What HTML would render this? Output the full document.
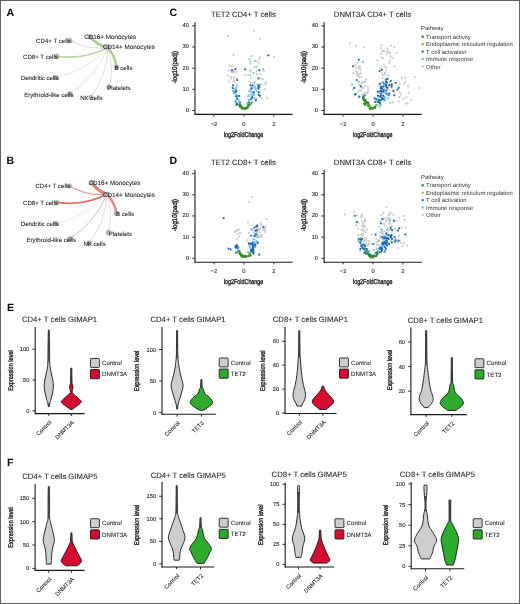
<!DOCTYPE html>
<html><head><meta charset="utf-8"><style>
html,body{margin:0;padding:0;background:#fff;}
svg{display:block;font-family:"Liberation Sans", sans-serif;text-rendering:geometricPrecision;will-change:transform;}
</style></head><body>
<svg width="520" height="604" viewBox="0 0 520 604">
<rect x="0" y="0" width="520" height="604" fill="#fff"/>
<text x="6.60" y="16.20" font-size="10.6" text-anchor="start" fill="#000" font-weight="bold" >A</text>
<text x="6.60" y="163.60" font-size="10.6" text-anchor="start" fill="#000" font-weight="bold" >B</text>
<text x="169.60" y="16.30" font-size="10.6" text-anchor="start" fill="#000" font-weight="bold" >C</text>
<text x="169.60" y="163.80" font-size="10.6" text-anchor="start" fill="#000" font-weight="bold" >D</text>
<text x="6.90" y="310.80" font-size="10.6" text-anchor="start" fill="#000" font-weight="bold" >E</text>
<text x="7.00" y="466.10" font-size="10.6" text-anchor="start" fill="#000" font-weight="bold" >F</text>
<path d="M107.80,47.60 Q97.27,45.02 90.20,36.80" fill="none" stroke="#a6cf8a" stroke-width="2.8" stroke-linecap="round"/>
<path d="M107.80,47.60 Q115.30,56.06 116.50,67.30" fill="none" stroke="#a9d08e" stroke-width="2.4" stroke-linecap="round"/>
<path d="M107.80,47.60 Q83.58,60.09 56.60,56.20" fill="none" stroke="#b2d49a" stroke-width="1.6" stroke-linecap="round"/>
<path d="M107.80,47.60 Q87.73,50.16 69.90,40.60" fill="none" stroke="#d8d8ea" stroke-width="1.0" stroke-linecap="round"/>
<path d="M107.80,47.60 Q86.67,70.95 55.90,77.70" fill="none" stroke="#dcebd2" stroke-width="0.9" stroke-linecap="round"/>
<path d="M107.80,47.60 Q96.29,76.75 70.00,93.80" fill="none" stroke="#e0e0e0" stroke-width="0.9" stroke-linecap="round"/>
<path d="M107.80,47.60 Q107.35,75.14 91.00,97.30" fill="none" stroke="#d8d8d8" stroke-width="0.9" stroke-linecap="round"/>
<path d="M107.80,47.60 Q114.70,67.11 109.00,87.00" fill="none" stroke="#d8d8d8" stroke-width="0.9" stroke-linecap="round"/>
<circle cx="107.80" cy="47.60" r="2.6" fill="#a8a8a8" opacity="0.85"/>
<circle cx="90.20" cy="36.80" r="2.6" fill="#a8a8a8" opacity="0.85"/>
<circle cx="69.90" cy="40.60" r="2.6" fill="#a8a8a8" opacity="0.85"/>
<circle cx="56.60" cy="56.20" r="2.6" fill="#a8a8a8" opacity="0.85"/>
<circle cx="116.50" cy="67.30" r="2.6" fill="#a8a8a8" opacity="0.85"/>
<circle cx="55.90" cy="77.70" r="2.6" fill="#a8a8a8" opacity="0.85"/>
<circle cx="109.00" cy="87.00" r="2.6" fill="#a8a8a8" opacity="0.85"/>
<circle cx="70.00" cy="93.80" r="2.6" fill="#a8a8a8" opacity="0.85"/>
<circle cx="91.00" cy="97.30" r="2.6" fill="#a8a8a8" opacity="0.85"/>
<text x="84.20" y="38.80" font-size="6.3" text-anchor="start" fill="#222" font-weight="normal" stroke="#222" stroke-width="0.08">CD16+ Monocytes</text>
<text x="103.00" y="49.10" font-size="6.3" text-anchor="start" fill="#222" font-weight="normal" stroke="#222" stroke-width="0.08">CD14+ Monocytes</text>
<text x="36.10" y="42.70" font-size="6.1" text-anchor="start" fill="#222" font-weight="normal" stroke="#222" stroke-width="0.08">CD4+ T cells</text>
<text x="23.00" y="58.60" font-size="6.1" text-anchor="start" fill="#222" font-weight="normal" stroke="#222" stroke-width="0.08">CD8+ T cells</text>
<text x="114.50" y="70.30" font-size="6.1" text-anchor="start" fill="#222" font-weight="normal" stroke="#222" stroke-width="0.08">B cells</text>
<text x="20.80" y="80.40" font-size="6.1" text-anchor="start" fill="#222" font-weight="normal" stroke="#222" stroke-width="0.08">Dendritic cells</text>
<text x="107.30" y="89.90" font-size="6.1" text-anchor="start" fill="#222" font-weight="normal" stroke="#222" stroke-width="0.08">Platelets</text>
<text x="24.20" y="96.70" font-size="6.1" text-anchor="start" fill="#222" font-weight="normal" stroke="#222" stroke-width="0.08">Erythroid-like cells</text>
<text x="80.20" y="100.30" font-size="6.1" text-anchor="start" fill="#222" font-weight="normal" stroke="#222" stroke-width="0.08">NK cells</text>
<path d="M107.00,194.30 Q97.87,191.10 92.30,183.20" fill="none" stroke="#df8580" stroke-width="3.4" stroke-linecap="round"/>
<path d="M107.00,194.30 Q114.81,202.33 116.50,213.40" fill="none" stroke="#e08d89" stroke-width="2.6" stroke-linecap="round"/>
<path d="M107.00,194.30 Q83.20,206.38 56.80,202.40" fill="none" stroke="#da6c68" stroke-width="1.8" stroke-linecap="round"/>
<path d="M107.00,194.30 Q86.82,196.18 69.30,186.00" fill="none" stroke="#e39a96" stroke-width="1.1" stroke-linecap="round"/>
<path d="M107.00,194.30 Q86.29,217.08 56.20,223.60" fill="none" stroke="#f3eaea" stroke-width="0.9" stroke-linecap="round"/>
<path d="M107.00,194.30 Q95.50,222.45 69.80,238.70" fill="none" stroke="#e8aeab" stroke-width="0.9" stroke-linecap="round"/>
<path d="M107.00,194.30 Q105.89,221.50 89.20,243.00" fill="none" stroke="#edd0ce" stroke-width="0.9" stroke-linecap="round"/>
<path d="M107.00,194.30 Q113.75,213.14 108.30,232.40" fill="none" stroke="#e6dddd" stroke-width="0.9" stroke-linecap="round"/>
<circle cx="107.00" cy="194.30" r="2.6" fill="#a8a8a8" opacity="0.85"/>
<circle cx="92.30" cy="183.20" r="2.6" fill="#a8a8a8" opacity="0.85"/>
<circle cx="69.30" cy="186.00" r="2.6" fill="#a8a8a8" opacity="0.85"/>
<circle cx="56.80" cy="202.40" r="2.6" fill="#a8a8a8" opacity="0.85"/>
<circle cx="116.50" cy="213.40" r="2.6" fill="#a8a8a8" opacity="0.85"/>
<circle cx="56.20" cy="223.60" r="2.6" fill="#a8a8a8" opacity="0.85"/>
<circle cx="108.30" cy="232.40" r="2.6" fill="#a8a8a8" opacity="0.85"/>
<circle cx="69.80" cy="238.70" r="2.6" fill="#a8a8a8" opacity="0.85"/>
<circle cx="89.20" cy="243.00" r="2.6" fill="#a8a8a8" opacity="0.85"/>
<text x="88.50" y="185.40" font-size="6.3" text-anchor="start" fill="#222" font-weight="normal" stroke="#222" stroke-width="0.08">CD16+ Monocytes</text>
<text x="103.00" y="196.50" font-size="6.3" text-anchor="start" fill="#222" font-weight="normal" stroke="#222" stroke-width="0.08">CD14+ Monocytes</text>
<text x="35.40" y="188.10" font-size="6.1" text-anchor="start" fill="#222" font-weight="normal" stroke="#222" stroke-width="0.08">CD4+ T cells</text>
<text x="23.00" y="205.40" font-size="6.1" text-anchor="start" fill="#222" font-weight="normal" stroke="#222" stroke-width="0.08">CD8+ T cells</text>
<text x="116.00" y="215.90" font-size="6.1" text-anchor="start" fill="#222" font-weight="normal" stroke="#222" stroke-width="0.08">B cells</text>
<text x="20.80" y="225.80" font-size="6.1" text-anchor="start" fill="#222" font-weight="normal" stroke="#222" stroke-width="0.08">Dendritic cells</text>
<text x="108.70" y="236.00" font-size="6.1" text-anchor="start" fill="#222" font-weight="normal" stroke="#222" stroke-width="0.08">Platelets</text>
<text x="26.50" y="242.30" font-size="6.1" text-anchor="start" fill="#222" font-weight="normal" stroke="#222" stroke-width="0.08">Erythroid-like cells</text>
<text x="83.40" y="246.40" font-size="6.1" text-anchor="start" fill="#222" font-weight="normal" stroke="#222" stroke-width="0.08">NK cells</text>
<text x="243.40" y="17.10" font-size="7.7" text-anchor="middle" fill="#231f20" font-weight="normal" stroke="#231f20" stroke-width="0.08">TET2 CD4+ T cells</text>
<line x1="195.00" y1="22.20" x2="195.00" y2="114.90" stroke="#1a1a1a" stroke-width="1.1" />
<line x1="192.20" y1="110.50" x2="195.00" y2="110.50" stroke="#1a1a1a" stroke-width="0.9" />
<text x="189.00" y="112.00" font-size="5.8" text-anchor="end" fill="#2a2a2a" font-weight="normal" stroke="#2a2a2a" stroke-width="0.12">0</text>
<line x1="192.20" y1="89.33" x2="195.00" y2="89.33" stroke="#1a1a1a" stroke-width="0.9" />
<text x="189.00" y="90.83" font-size="5.8" text-anchor="end" fill="#2a2a2a" font-weight="normal" stroke="#2a2a2a" stroke-width="0.12">10</text>
<line x1="192.20" y1="68.16" x2="195.00" y2="68.16" stroke="#1a1a1a" stroke-width="0.9" />
<text x="189.00" y="69.66" font-size="5.8" text-anchor="end" fill="#2a2a2a" font-weight="normal" stroke="#2a2a2a" stroke-width="0.12">20</text>
<line x1="192.20" y1="46.99" x2="195.00" y2="46.99" stroke="#1a1a1a" stroke-width="0.9" />
<text x="189.00" y="48.49" font-size="5.8" text-anchor="end" fill="#2a2a2a" font-weight="normal" stroke="#2a2a2a" stroke-width="0.12">30</text>
<line x1="192.20" y1="25.82" x2="195.00" y2="25.82" stroke="#1a1a1a" stroke-width="0.9" />
<text x="189.00" y="27.32" font-size="5.8" text-anchor="end" fill="#2a2a2a" font-weight="normal" stroke="#2a2a2a" stroke-width="0.12">40</text>
<line x1="194.50" y1="114.40" x2="292.60" y2="114.40" stroke="#1a1a1a" stroke-width="1.1" />
<line x1="214.00" y1="114.40" x2="214.00" y2="116.60" stroke="#1a1a1a" stroke-width="0.9" />
<text x="214.00" y="125.60" font-size="5.8" text-anchor="middle" fill="#2a2a2a" font-weight="normal" stroke="#2a2a2a" stroke-width="0.12">−2</text>
<line x1="243.90" y1="114.40" x2="243.90" y2="116.60" stroke="#1a1a1a" stroke-width="0.9" />
<text x="243.90" y="125.60" font-size="5.8" text-anchor="middle" fill="#2a2a2a" font-weight="normal" stroke="#2a2a2a" stroke-width="0.12">0</text>
<line x1="273.80" y1="114.40" x2="273.80" y2="116.60" stroke="#1a1a1a" stroke-width="0.9" />
<text x="273.80" y="125.60" font-size="5.8" text-anchor="middle" fill="#2a2a2a" font-weight="normal" stroke="#2a2a2a" stroke-width="0.12">2</text>
<text x="243.60" y="136.50" font-size="7.0" text-anchor="middle" fill="#1a1a1a" font-weight="normal" textLength="39.5" lengthAdjust="spacingAndGlyphs" stroke="#111" stroke-width="0.32">log2FoldChange</text>
<text x="0" y="0" font-size="7.0" font-weight="normal" text-anchor="middle" fill="#1a1a1a" stroke="#111" stroke-width="0.32" textLength="32.5" lengthAdjust="spacingAndGlyphs" transform="translate(177.00,67.30) rotate(-90)">-log10(padj)</text>
<circle cx="233.85" cy="81.16" r="1.08" fill="#cbcbcb"/>
<circle cx="236.60" cy="71.96" r="1.08" fill="#cbcbcb"/>
<circle cx="233.58" cy="77.27" r="1.08" fill="#cbcbcb"/>
<circle cx="235.83" cy="87.70" r="1.08" fill="#cbcbcb"/>
<circle cx="230.92" cy="76.89" r="1.08" fill="#cbcbcb"/>
<circle cx="236.06" cy="89.30" r="1.08" fill="#cbcbcb"/>
<circle cx="231.90" cy="66.30" r="1.08" fill="#cbcbcb"/>
<circle cx="233.84" cy="78.80" r="1.08" fill="#cbcbcb"/>
<circle cx="231.22" cy="78.58" r="1.08" fill="#cbcbcb"/>
<circle cx="233.13" cy="72.20" r="1.08" fill="#cbcbcb"/>
<circle cx="231.32" cy="71.89" r="1.08" fill="#cbcbcb"/>
<circle cx="237.23" cy="78.32" r="1.08" fill="#cbcbcb"/>
<circle cx="234.10" cy="71.59" r="1.08" fill="#cbcbcb"/>
<circle cx="227.88" cy="75.54" r="1.08" fill="#cbcbcb"/>
<circle cx="237.23" cy="84.72" r="1.08" fill="#cbcbcb"/>
<circle cx="228.75" cy="70.45" r="1.08" fill="#cbcbcb"/>
<circle cx="232.86" cy="71.33" r="1.08" fill="#cbcbcb"/>
<circle cx="233.87" cy="72.40" r="1.08" fill="#cbcbcb"/>
<circle cx="234.36" cy="93.70" r="1.08" fill="#cbcbcb"/>
<circle cx="237.35" cy="85.81" r="1.08" fill="#cbcbcb"/>
<circle cx="250.06" cy="70.09" r="1.08" fill="#cbcbcb"/>
<circle cx="251.88" cy="56.07" r="1.08" fill="#cbcbcb"/>
<circle cx="259.30" cy="59.07" r="1.08" fill="#cbcbcb"/>
<circle cx="251.19" cy="86.55" r="1.08" fill="#cbcbcb"/>
<circle cx="244.85" cy="74.89" r="1.08" fill="#cbcbcb"/>
<circle cx="251.21" cy="55.96" r="1.08" fill="#cbcbcb"/>
<circle cx="249.72" cy="90.09" r="1.08" fill="#cbcbcb"/>
<circle cx="260.64" cy="74.16" r="1.08" fill="#cbcbcb"/>
<circle cx="250.61" cy="75.10" r="1.08" fill="#cbcbcb"/>
<circle cx="251.19" cy="70.62" r="1.08" fill="#cbcbcb"/>
<circle cx="254.57" cy="84.86" r="1.08" fill="#cbcbcb"/>
<circle cx="254.10" cy="92.26" r="1.08" fill="#cbcbcb"/>
<circle cx="256.77" cy="74.54" r="1.08" fill="#cbcbcb"/>
<circle cx="255.53" cy="88.89" r="1.08" fill="#cbcbcb"/>
<circle cx="251.03" cy="77.64" r="1.08" fill="#cbcbcb"/>
<circle cx="248.47" cy="75.22" r="1.08" fill="#cbcbcb"/>
<circle cx="259.97" cy="57.33" r="1.08" fill="#cbcbcb"/>
<circle cx="255.83" cy="89.92" r="1.08" fill="#cbcbcb"/>
<circle cx="251.78" cy="84.76" r="1.08" fill="#cbcbcb"/>
<circle cx="249.78" cy="71.53" r="1.08" fill="#cbcbcb"/>
<circle cx="253.52" cy="94.97" r="1.08" fill="#cbcbcb"/>
<circle cx="256.69" cy="73.51" r="1.08" fill="#cbcbcb"/>
<circle cx="249.54" cy="90.90" r="1.08" fill="#cbcbcb"/>
<circle cx="250.31" cy="81.97" r="1.08" fill="#cbcbcb"/>
<circle cx="254.64" cy="67.16" r="1.08" fill="#cbcbcb"/>
<circle cx="250.33" cy="63.33" r="1.08" fill="#cbcbcb"/>
<circle cx="252.40" cy="82.79" r="1.08" fill="#cbcbcb"/>
<circle cx="256.45" cy="71.06" r="1.08" fill="#cbcbcb"/>
<circle cx="256.96" cy="66.84" r="1.08" fill="#cbcbcb"/>
<circle cx="252.30" cy="91.86" r="1.08" fill="#cbcbcb"/>
<circle cx="248.41" cy="74.79" r="1.08" fill="#cbcbcb"/>
<circle cx="256.07" cy="67.04" r="1.08" fill="#cbcbcb"/>
<circle cx="249.62" cy="95.32" r="1.08" fill="#cbcbcb"/>
<circle cx="260.83" cy="78.57" r="1.08" fill="#cbcbcb"/>
<circle cx="265.26" cy="84.16" r="1.08" fill="#cbcbcb"/>
<circle cx="265.09" cy="89.23" r="1.08" fill="#cbcbcb"/>
<circle cx="267.40" cy="97.83" r="1.08" fill="#cbcbcb"/>
<circle cx="266.03" cy="82.62" r="1.08" fill="#cbcbcb"/>
<circle cx="262.00" cy="98.37" r="1.08" fill="#cbcbcb"/>
<circle cx="260.48" cy="84.04" r="1.08" fill="#cbcbcb"/>
<circle cx="261.63" cy="84.89" r="1.08" fill="#cbcbcb"/>
<circle cx="228.00" cy="35.80" r="1.08" fill="#cbcbcb"/>
<circle cx="253.90" cy="30.80" r="1.08" fill="#cbcbcb"/>
<circle cx="260.00" cy="38.90" r="1.08" fill="#cbcbcb"/>
<circle cx="274.20" cy="56.90" r="1.08" fill="#cbcbcb"/>
<circle cx="233.50" cy="55.10" r="1.08" fill="#cbcbcb"/>
<circle cx="249.60" cy="59.20" r="1.08" fill="#cbcbcb"/>
<circle cx="250.40" cy="61.20" r="1.08" fill="#cbcbcb"/>
<circle cx="257.30" cy="61.50" r="1.08" fill="#cbcbcb"/>
<circle cx="259.20" cy="62.80" r="1.08" fill="#cbcbcb"/>
<circle cx="229.60" cy="65.70" r="1.08" fill="#cbcbcb"/>
<circle cx="264.20" cy="70.70" r="1.08" fill="#cbcbcb"/>
<circle cx="263.30" cy="79.30" r="1.08" fill="#cbcbcb"/>
<circle cx="229.10" cy="81.70" r="1.08" fill="#cbcbcb"/>
<circle cx="236.08" cy="94.70" r="1.08" fill="#6cc3ea"/>
<circle cx="236.05" cy="103.14" r="1.08" fill="#6cc3ea"/>
<circle cx="234.13" cy="88.98" r="1.08" fill="#6cc3ea"/>
<circle cx="235.66" cy="96.48" r="1.08" fill="#6cc3ea"/>
<circle cx="237.34" cy="95.21" r="1.08" fill="#6cc3ea"/>
<circle cx="234.02" cy="93.17" r="1.08" fill="#6cc3ea"/>
<circle cx="235.33" cy="101.57" r="1.08" fill="#6cc3ea"/>
<circle cx="233.07" cy="91.22" r="1.08" fill="#6cc3ea"/>
<circle cx="236.80" cy="95.92" r="1.08" fill="#6cc3ea"/>
<circle cx="233.03" cy="91.05" r="1.08" fill="#6cc3ea"/>
<circle cx="238.71" cy="99.93" r="1.08" fill="#6cc3ea"/>
<circle cx="239.30" cy="102.37" r="1.08" fill="#6cc3ea"/>
<circle cx="237.50" cy="95.74" r="1.08" fill="#6cc3ea"/>
<circle cx="235.28" cy="101.60" r="1.08" fill="#6cc3ea"/>
<circle cx="235.22" cy="102.31" r="1.08" fill="#6cc3ea"/>
<circle cx="234.18" cy="92.51" r="1.08" fill="#6cc3ea"/>
<circle cx="236.45" cy="87.85" r="1.08" fill="#6cc3ea"/>
<circle cx="233.93" cy="91.27" r="1.08" fill="#6cc3ea"/>
<circle cx="236.04" cy="100.51" r="1.08" fill="#6cc3ea"/>
<circle cx="235.60" cy="91.96" r="1.08" fill="#6cc3ea"/>
<circle cx="259.80" cy="87.30" r="1.08" fill="#6cc3ea"/>
<circle cx="247.83" cy="102.72" r="1.08" fill="#6cc3ea"/>
<circle cx="248.15" cy="96.14" r="1.08" fill="#6cc3ea"/>
<circle cx="255.64" cy="88.41" r="1.08" fill="#6cc3ea"/>
<circle cx="256.27" cy="98.71" r="1.08" fill="#6cc3ea"/>
<circle cx="253.71" cy="92.79" r="1.08" fill="#6cc3ea"/>
<circle cx="254.60" cy="87.40" r="1.08" fill="#6cc3ea"/>
<circle cx="252.40" cy="92.08" r="1.08" fill="#6cc3ea"/>
<circle cx="249.53" cy="100.20" r="1.08" fill="#6cc3ea"/>
<circle cx="249.64" cy="91.28" r="1.08" fill="#6cc3ea"/>
<circle cx="248.75" cy="99.90" r="1.08" fill="#6cc3ea"/>
<circle cx="254.67" cy="98.30" r="1.08" fill="#6cc3ea"/>
<circle cx="254.26" cy="94.27" r="1.08" fill="#6cc3ea"/>
<circle cx="259.35" cy="92.79" r="1.08" fill="#6cc3ea"/>
<circle cx="253.30" cy="95.24" r="1.08" fill="#6cc3ea"/>
<circle cx="256.65" cy="91.04" r="1.08" fill="#6cc3ea"/>
<circle cx="257.29" cy="84.50" r="1.08" fill="#6cc3ea"/>
<circle cx="247.06" cy="103.15" r="1.08" fill="#6cc3ea"/>
<circle cx="252.27" cy="95.65" r="1.08" fill="#6cc3ea"/>
<circle cx="251.38" cy="97.18" r="1.08" fill="#6cc3ea"/>
<circle cx="251.21" cy="94.28" r="1.08" fill="#6cc3ea"/>
<circle cx="253.98" cy="94.51" r="1.08" fill="#6cc3ea"/>
<circle cx="249.61" cy="91.19" r="1.08" fill="#6cc3ea"/>
<circle cx="255.53" cy="88.80" r="1.08" fill="#6cc3ea"/>
<circle cx="254.65" cy="86.92" r="1.08" fill="#6cc3ea"/>
<circle cx="254.48" cy="82.43" r="1.08" fill="#6cc3ea"/>
<circle cx="253.45" cy="72.81" r="1.08" fill="#6cc3ea"/>
<circle cx="263.11" cy="69.05" r="1.08" fill="#6cc3ea"/>
<circle cx="255.05" cy="60.97" r="1.08" fill="#6cc3ea"/>
<circle cx="237.26" cy="103.89" r="1.08" fill="#2266ad"/>
<circle cx="232.65" cy="88.05" r="1.08" fill="#2266ad"/>
<circle cx="236.18" cy="90.59" r="1.08" fill="#2266ad"/>
<circle cx="236.25" cy="96.50" r="1.08" fill="#2266ad"/>
<circle cx="233.03" cy="85.45" r="1.08" fill="#2266ad"/>
<circle cx="237.24" cy="98.68" r="1.08" fill="#2266ad"/>
<circle cx="239.18" cy="96.12" r="1.08" fill="#2266ad"/>
<circle cx="240.07" cy="102.49" r="1.08" fill="#2266ad"/>
<circle cx="235.71" cy="92.12" r="1.08" fill="#2266ad"/>
<circle cx="236.41" cy="104.99" r="1.08" fill="#2266ad"/>
<circle cx="252.55" cy="85.53" r="1.08" fill="#2266ad"/>
<circle cx="253.59" cy="92.18" r="1.08" fill="#2266ad"/>
<circle cx="258.49" cy="88.78" r="1.08" fill="#2266ad"/>
<circle cx="252.30" cy="97.38" r="1.08" fill="#2266ad"/>
<circle cx="250.31" cy="85.26" r="1.08" fill="#2266ad"/>
<circle cx="258.18" cy="86.96" r="1.08" fill="#2266ad"/>
<circle cx="251.64" cy="102.58" r="1.08" fill="#2266ad"/>
<circle cx="249.07" cy="102.37" r="1.08" fill="#2266ad"/>
<circle cx="255.91" cy="100.40" r="1.08" fill="#2266ad"/>
<circle cx="251.19" cy="99.13" r="1.08" fill="#2266ad"/>
<circle cx="251.57" cy="88.44" r="1.08" fill="#2266ad"/>
<circle cx="251.72" cy="88.46" r="1.08" fill="#2266ad"/>
<circle cx="245.18" cy="69.41" r="1.08" fill="#2266ad"/>
<circle cx="259.06" cy="86.09" r="1.08" fill="#2266ad"/>
<circle cx="258.68" cy="92.33" r="1.08" fill="#2266ad"/>
<circle cx="259.89" cy="95.87" r="1.08" fill="#2266ad"/>
<circle cx="258.62" cy="94.87" r="1.08" fill="#2266ad"/>
<circle cx="258.99" cy="85.29" r="1.08" fill="#2266ad"/>
<circle cx="268.40" cy="55.40" r="1.08" fill="#2266ad"/>
<circle cx="232.00" cy="70.20" r="1.08" fill="#2266ad"/>
<circle cx="235.40" cy="69.20" r="1.08" fill="#2266ad"/>
<circle cx="259.40" cy="70.20" r="1.08" fill="#2266ad"/>
<circle cx="258.50" cy="78.40" r="1.08" fill="#2266ad"/>
<circle cx="237.10" cy="80.00" r="1.08" fill="#2266ad"/>
<circle cx="242.92" cy="108.34" r="1.08" fill="#7cc142"/>
<circle cx="244.31" cy="108.63" r="1.08" fill="#7cc142"/>
<circle cx="250.51" cy="103.99" r="1.08" fill="#7cc142"/>
<circle cx="241.10" cy="107.00" r="1.08" fill="#7cc142"/>
<circle cx="244.18" cy="108.22" r="1.08" fill="#7cc142"/>
<circle cx="250.93" cy="103.82" r="1.08" fill="#7cc142"/>
<circle cx="239.32" cy="106.51" r="1.08" fill="#7cc142"/>
<circle cx="248.05" cy="107.61" r="1.08" fill="#7cc142"/>
<circle cx="241.07" cy="106.62" r="1.08" fill="#7cc142"/>
<circle cx="249.82" cy="103.96" r="1.08" fill="#7cc142"/>
<circle cx="240.55" cy="107.73" r="1.08" fill="#7cc142"/>
<circle cx="239.67" cy="105.25" r="1.08" fill="#7cc142"/>
<circle cx="241.88" cy="108.84" r="1.08" fill="#7cc142"/>
<circle cx="247.44" cy="107.53" r="1.08" fill="#7cc142"/>
<circle cx="239.78" cy="104.46" r="1.08" fill="#7cc142"/>
<circle cx="245.62" cy="109.04" r="1.08" fill="#7cc142"/>
<circle cx="249.36" cy="103.54" r="1.08" fill="#7cc142"/>
<circle cx="240.64" cy="106.23" r="1.08" fill="#7cc142"/>
<circle cx="246.81" cy="107.97" r="1.08" fill="#7cc142"/>
<circle cx="245.99" cy="108.25" r="1.08" fill="#2e8b2a"/>
<circle cx="240.28" cy="104.73" r="1.08" fill="#2e8b2a"/>
<circle cx="241.34" cy="106.51" r="1.08" fill="#2e8b2a"/>
<circle cx="244.21" cy="108.33" r="1.08" fill="#2e8b2a"/>
<circle cx="242.52" cy="108.53" r="1.08" fill="#2e8b2a"/>
<circle cx="246.64" cy="107.95" r="1.08" fill="#2e8b2a"/>
<circle cx="249.55" cy="104.59" r="1.08" fill="#2e8b2a"/>
<circle cx="247.64" cy="105.70" r="1.08" fill="#2e8b2a"/>
<circle cx="239.21" cy="104.52" r="1.08" fill="#2e8b2a"/>
<circle cx="240.30" cy="106.11" r="1.08" fill="#2e8b2a"/>
<circle cx="239.98" cy="106.02" r="1.08" fill="#2e8b2a"/>
<circle cx="240.45" cy="105.58" r="1.08" fill="#2e8b2a"/>
<circle cx="247.30" cy="107.68" r="1.08" fill="#2e8b2a"/>
<circle cx="245.53" cy="108.45" r="1.08" fill="#2e8b2a"/>
<circle cx="249.15" cy="105.12" r="1.08" fill="#2e8b2a"/>
<circle cx="248.29" cy="105.56" r="1.08" fill="#2e8b2a"/>
<circle cx="242.13" cy="107.02" r="1.08" fill="#2e8b2a"/>
<circle cx="240.89" cy="106.51" r="1.08" fill="#2e8b2a"/>
<circle cx="245.57" cy="108.18" r="1.08" fill="#2e8b2a"/>
<circle cx="249.12" cy="105.40" r="1.08" fill="#2e8b2a"/>
<circle cx="244.19" cy="108.86" r="1.08" fill="#2e8b2a"/>
<text x="372.50" y="17.10" font-size="7.7" text-anchor="middle" fill="#231f20" font-weight="normal" stroke="#231f20" stroke-width="0.08">DNMT3A CD4+ T cells</text>
<line x1="324.10" y1="22.20" x2="324.10" y2="114.90" stroke="#1a1a1a" stroke-width="1.1" />
<line x1="321.30" y1="110.50" x2="324.10" y2="110.50" stroke="#1a1a1a" stroke-width="0.9" />
<text x="318.10" y="112.00" font-size="5.8" text-anchor="end" fill="#2a2a2a" font-weight="normal" stroke="#2a2a2a" stroke-width="0.12">0</text>
<line x1="321.30" y1="89.33" x2="324.10" y2="89.33" stroke="#1a1a1a" stroke-width="0.9" />
<text x="318.10" y="90.83" font-size="5.8" text-anchor="end" fill="#2a2a2a" font-weight="normal" stroke="#2a2a2a" stroke-width="0.12">10</text>
<line x1="321.30" y1="68.16" x2="324.10" y2="68.16" stroke="#1a1a1a" stroke-width="0.9" />
<text x="318.10" y="69.66" font-size="5.8" text-anchor="end" fill="#2a2a2a" font-weight="normal" stroke="#2a2a2a" stroke-width="0.12">20</text>
<line x1="321.30" y1="46.99" x2="324.10" y2="46.99" stroke="#1a1a1a" stroke-width="0.9" />
<text x="318.10" y="48.49" font-size="5.8" text-anchor="end" fill="#2a2a2a" font-weight="normal" stroke="#2a2a2a" stroke-width="0.12">30</text>
<line x1="321.30" y1="25.82" x2="324.10" y2="25.82" stroke="#1a1a1a" stroke-width="0.9" />
<text x="318.10" y="27.32" font-size="5.8" text-anchor="end" fill="#2a2a2a" font-weight="normal" stroke="#2a2a2a" stroke-width="0.12">40</text>
<line x1="323.60" y1="114.40" x2="421.70" y2="114.40" stroke="#1a1a1a" stroke-width="1.1" />
<line x1="343.10" y1="114.40" x2="343.10" y2="116.60" stroke="#1a1a1a" stroke-width="0.9" />
<text x="343.10" y="125.60" font-size="5.8" text-anchor="middle" fill="#2a2a2a" font-weight="normal" stroke="#2a2a2a" stroke-width="0.12">−2</text>
<line x1="373.00" y1="114.40" x2="373.00" y2="116.60" stroke="#1a1a1a" stroke-width="0.9" />
<text x="373.00" y="125.60" font-size="5.8" text-anchor="middle" fill="#2a2a2a" font-weight="normal" stroke="#2a2a2a" stroke-width="0.12">0</text>
<line x1="402.90" y1="114.40" x2="402.90" y2="116.60" stroke="#1a1a1a" stroke-width="0.9" />
<text x="402.90" y="125.60" font-size="5.8" text-anchor="middle" fill="#2a2a2a" font-weight="normal" stroke="#2a2a2a" stroke-width="0.12">2</text>
<text x="372.70" y="136.50" font-size="7.0" text-anchor="middle" fill="#1a1a1a" font-weight="normal" textLength="39.5" lengthAdjust="spacingAndGlyphs" stroke="#111" stroke-width="0.32">log2FoldChange</text>
<text x="0" y="0" font-size="7.0" font-weight="normal" text-anchor="middle" fill="#1a1a1a" stroke="#111" stroke-width="0.32" textLength="32.5" lengthAdjust="spacingAndGlyphs" transform="translate(306.10,67.30) rotate(-90)">-log10(padj)</text>
<circle cx="359.41" cy="66.17" r="1.08" fill="#cbcbcb"/>
<circle cx="355.65" cy="64.95" r="1.08" fill="#cbcbcb"/>
<circle cx="359.81" cy="68.49" r="1.08" fill="#cbcbcb"/>
<circle cx="358.69" cy="76.85" r="1.08" fill="#cbcbcb"/>
<circle cx="360.68" cy="70.26" r="1.08" fill="#cbcbcb"/>
<circle cx="357.26" cy="72.39" r="1.08" fill="#cbcbcb"/>
<circle cx="358.92" cy="76.91" r="1.08" fill="#cbcbcb"/>
<circle cx="359.57" cy="84.80" r="1.08" fill="#cbcbcb"/>
<circle cx="365.91" cy="79.29" r="1.08" fill="#cbcbcb"/>
<circle cx="355.46" cy="71.03" r="1.08" fill="#cbcbcb"/>
<circle cx="365.26" cy="85.71" r="1.08" fill="#cbcbcb"/>
<circle cx="367.32" cy="92.53" r="1.08" fill="#cbcbcb"/>
<circle cx="358.41" cy="92.22" r="1.08" fill="#cbcbcb"/>
<circle cx="357.52" cy="62.68" r="1.08" fill="#cbcbcb"/>
<circle cx="368.02" cy="87.60" r="1.08" fill="#cbcbcb"/>
<circle cx="357.64" cy="75.32" r="1.08" fill="#cbcbcb"/>
<circle cx="365.99" cy="95.60" r="1.08" fill="#cbcbcb"/>
<circle cx="353.60" cy="66.06" r="1.08" fill="#cbcbcb"/>
<circle cx="356.53" cy="67.76" r="1.08" fill="#cbcbcb"/>
<circle cx="357.92" cy="74.20" r="1.08" fill="#cbcbcb"/>
<circle cx="361.85" cy="82.95" r="1.08" fill="#cbcbcb"/>
<circle cx="361.12" cy="90.38" r="1.08" fill="#cbcbcb"/>
<circle cx="356.45" cy="74.28" r="1.08" fill="#cbcbcb"/>
<circle cx="368.20" cy="89.72" r="1.08" fill="#cbcbcb"/>
<circle cx="361.45" cy="76.82" r="1.08" fill="#cbcbcb"/>
<circle cx="360.37" cy="85.88" r="1.08" fill="#cbcbcb"/>
<circle cx="353.45" cy="73.16" r="1.08" fill="#cbcbcb"/>
<circle cx="366.68" cy="93.41" r="1.08" fill="#cbcbcb"/>
<circle cx="364.37" cy="81.53" r="1.08" fill="#cbcbcb"/>
<circle cx="358.90" cy="67.83" r="1.08" fill="#cbcbcb"/>
<circle cx="363.55" cy="88.05" r="1.08" fill="#cbcbcb"/>
<circle cx="361.99" cy="94.75" r="1.08" fill="#cbcbcb"/>
<circle cx="358.64" cy="75.07" r="1.08" fill="#cbcbcb"/>
<circle cx="363.98" cy="94.16" r="1.08" fill="#cbcbcb"/>
<circle cx="367.96" cy="92.05" r="1.08" fill="#cbcbcb"/>
<circle cx="360.25" cy="73.62" r="1.08" fill="#cbcbcb"/>
<circle cx="365.31" cy="81.34" r="1.08" fill="#cbcbcb"/>
<circle cx="364.37" cy="95.08" r="1.08" fill="#cbcbcb"/>
<circle cx="359.90" cy="66.96" r="1.08" fill="#cbcbcb"/>
<circle cx="364.74" cy="92.51" r="1.08" fill="#cbcbcb"/>
<circle cx="361.92" cy="87.67" r="1.08" fill="#cbcbcb"/>
<circle cx="359.27" cy="90.22" r="1.08" fill="#cbcbcb"/>
<circle cx="363.59" cy="82.48" r="1.08" fill="#cbcbcb"/>
<circle cx="358.83" cy="66.83" r="1.08" fill="#cbcbcb"/>
<circle cx="360.63" cy="73.37" r="1.08" fill="#cbcbcb"/>
<circle cx="384.52" cy="86.04" r="1.08" fill="#cbcbcb"/>
<circle cx="391.17" cy="45.60" r="1.08" fill="#cbcbcb"/>
<circle cx="382.54" cy="78.19" r="1.08" fill="#cbcbcb"/>
<circle cx="385.23" cy="79.86" r="1.08" fill="#cbcbcb"/>
<circle cx="392.52" cy="57.87" r="1.08" fill="#cbcbcb"/>
<circle cx="391.62" cy="84.80" r="1.08" fill="#cbcbcb"/>
<circle cx="389.79" cy="60.66" r="1.08" fill="#cbcbcb"/>
<circle cx="384.89" cy="92.69" r="1.08" fill="#cbcbcb"/>
<circle cx="387.98" cy="89.27" r="1.08" fill="#cbcbcb"/>
<circle cx="385.94" cy="70.44" r="1.08" fill="#cbcbcb"/>
<circle cx="384.99" cy="72.91" r="1.08" fill="#cbcbcb"/>
<circle cx="386.55" cy="87.49" r="1.08" fill="#cbcbcb"/>
<circle cx="386.33" cy="54.54" r="1.08" fill="#cbcbcb"/>
<circle cx="379.36" cy="85.14" r="1.08" fill="#cbcbcb"/>
<circle cx="396.80" cy="52.96" r="1.08" fill="#cbcbcb"/>
<circle cx="394.40" cy="47.20" r="1.08" fill="#cbcbcb"/>
<circle cx="381.08" cy="54.10" r="1.08" fill="#cbcbcb"/>
<circle cx="382.05" cy="50.77" r="1.08" fill="#cbcbcb"/>
<circle cx="377.42" cy="60.14" r="1.08" fill="#cbcbcb"/>
<circle cx="383.13" cy="75.13" r="1.08" fill="#cbcbcb"/>
<circle cx="384.42" cy="66.55" r="1.08" fill="#cbcbcb"/>
<circle cx="381.22" cy="82.62" r="1.08" fill="#cbcbcb"/>
<circle cx="383.98" cy="51.16" r="1.08" fill="#cbcbcb"/>
<circle cx="381.86" cy="73.13" r="1.08" fill="#cbcbcb"/>
<circle cx="388.16" cy="75.58" r="1.08" fill="#cbcbcb"/>
<circle cx="387.41" cy="48.51" r="1.08" fill="#cbcbcb"/>
<circle cx="388.88" cy="86.08" r="1.08" fill="#cbcbcb"/>
<circle cx="381.73" cy="57.58" r="1.08" fill="#cbcbcb"/>
<circle cx="381.06" cy="68.10" r="1.08" fill="#cbcbcb"/>
<circle cx="383.07" cy="58.30" r="1.08" fill="#cbcbcb"/>
<circle cx="386.24" cy="67.55" r="1.08" fill="#cbcbcb"/>
<circle cx="383.90" cy="88.51" r="1.08" fill="#cbcbcb"/>
<circle cx="389.18" cy="63.14" r="1.08" fill="#cbcbcb"/>
<circle cx="384.52" cy="74.54" r="1.08" fill="#cbcbcb"/>
<circle cx="379.90" cy="84.72" r="1.08" fill="#cbcbcb"/>
<circle cx="383.77" cy="64.59" r="1.08" fill="#cbcbcb"/>
<circle cx="387.78" cy="50.69" r="1.08" fill="#cbcbcb"/>
<circle cx="389.91" cy="52.92" r="1.08" fill="#cbcbcb"/>
<circle cx="401.89" cy="77.66" r="1.08" fill="#cbcbcb"/>
<circle cx="399.53" cy="96.92" r="1.08" fill="#cbcbcb"/>
<circle cx="392.69" cy="86.12" r="1.08" fill="#cbcbcb"/>
<circle cx="400.92" cy="94.39" r="1.08" fill="#cbcbcb"/>
<circle cx="394.87" cy="82.71" r="1.08" fill="#cbcbcb"/>
<circle cx="392.62" cy="102.42" r="1.08" fill="#cbcbcb"/>
<circle cx="390.02" cy="81.95" r="1.08" fill="#cbcbcb"/>
<circle cx="403.55" cy="98.62" r="1.08" fill="#cbcbcb"/>
<circle cx="411.35" cy="99.81" r="1.08" fill="#cbcbcb"/>
<circle cx="404.24" cy="83.90" r="1.08" fill="#cbcbcb"/>
<circle cx="390.22" cy="102.88" r="1.08" fill="#cbcbcb"/>
<circle cx="399.82" cy="92.45" r="1.08" fill="#cbcbcb"/>
<circle cx="405.15" cy="77.88" r="1.08" fill="#cbcbcb"/>
<circle cx="393.85" cy="92.14" r="1.08" fill="#cbcbcb"/>
<circle cx="408.65" cy="92.82" r="1.08" fill="#cbcbcb"/>
<circle cx="407.94" cy="85.85" r="1.08" fill="#cbcbcb"/>
<circle cx="407.61" cy="103.34" r="1.08" fill="#cbcbcb"/>
<circle cx="400.00" cy="84.12" r="1.08" fill="#cbcbcb"/>
<circle cx="398.75" cy="101.40" r="1.08" fill="#cbcbcb"/>
<circle cx="399.22" cy="97.13" r="1.08" fill="#cbcbcb"/>
<circle cx="392.58" cy="83.61" r="1.08" fill="#cbcbcb"/>
<circle cx="408.31" cy="86.47" r="1.08" fill="#cbcbcb"/>
<circle cx="405.78" cy="103.61" r="1.08" fill="#cbcbcb"/>
<circle cx="405.21" cy="81.63" r="1.08" fill="#cbcbcb"/>
<circle cx="406.41" cy="97.29" r="1.08" fill="#cbcbcb"/>
<circle cx="350.20" cy="43.50" r="1.08" fill="#cbcbcb"/>
<circle cx="356.00" cy="45.80" r="1.08" fill="#cbcbcb"/>
<circle cx="364.00" cy="47.50" r="1.08" fill="#cbcbcb"/>
<circle cx="381.30" cy="45.20" r="1.08" fill="#cbcbcb"/>
<circle cx="380.80" cy="48.10" r="1.08" fill="#cbcbcb"/>
<circle cx="383.60" cy="51.00" r="1.08" fill="#cbcbcb"/>
<circle cx="387.10" cy="52.10" r="1.08" fill="#cbcbcb"/>
<circle cx="388.80" cy="52.70" r="1.08" fill="#cbcbcb"/>
<circle cx="390.60" cy="56.70" r="1.08" fill="#cbcbcb"/>
<circle cx="394.60" cy="66.50" r="1.08" fill="#cbcbcb"/>
<circle cx="415.00" cy="77.00" r="1.08" fill="#cbcbcb"/>
<circle cx="419.00" cy="88.00" r="1.08" fill="#cbcbcb"/>
<circle cx="383.87" cy="89.95" r="1.08" fill="#6cc3ea"/>
<circle cx="376.36" cy="99.87" r="1.08" fill="#6cc3ea"/>
<circle cx="385.79" cy="82.60" r="1.08" fill="#6cc3ea"/>
<circle cx="387.21" cy="83.63" r="1.08" fill="#6cc3ea"/>
<circle cx="385.35" cy="100.25" r="1.08" fill="#6cc3ea"/>
<circle cx="379.96" cy="105.49" r="1.08" fill="#6cc3ea"/>
<circle cx="384.81" cy="84.74" r="1.08" fill="#6cc3ea"/>
<circle cx="379.81" cy="93.25" r="1.08" fill="#6cc3ea"/>
<circle cx="383.10" cy="81.83" r="1.08" fill="#6cc3ea"/>
<circle cx="379.01" cy="96.33" r="1.08" fill="#6cc3ea"/>
<circle cx="378.26" cy="100.49" r="1.08" fill="#6cc3ea"/>
<circle cx="384.43" cy="100.51" r="1.08" fill="#6cc3ea"/>
<circle cx="384.99" cy="97.20" r="1.08" fill="#6cc3ea"/>
<circle cx="379.56" cy="106.42" r="1.08" fill="#6cc3ea"/>
<circle cx="385.72" cy="84.72" r="1.08" fill="#6cc3ea"/>
<circle cx="386.20" cy="90.23" r="1.08" fill="#6cc3ea"/>
<circle cx="379.71" cy="96.13" r="1.08" fill="#6cc3ea"/>
<circle cx="387.68" cy="98.44" r="1.08" fill="#6cc3ea"/>
<circle cx="382.29" cy="98.57" r="1.08" fill="#6cc3ea"/>
<circle cx="377.98" cy="96.39" r="1.08" fill="#6cc3ea"/>
<circle cx="380.99" cy="104.59" r="1.08" fill="#6cc3ea"/>
<circle cx="386.65" cy="82.16" r="1.08" fill="#6cc3ea"/>
<circle cx="386.20" cy="93.43" r="1.08" fill="#6cc3ea"/>
<circle cx="380.90" cy="97.09" r="1.08" fill="#6cc3ea"/>
<circle cx="377.84" cy="91.90" r="1.08" fill="#6cc3ea"/>
<circle cx="385.32" cy="84.78" r="1.08" fill="#6cc3ea"/>
<circle cx="352.07" cy="84.57" r="1.08" fill="#6cc3ea"/>
<circle cx="358.79" cy="97.26" r="1.08" fill="#6cc3ea"/>
<circle cx="355.93" cy="93.92" r="1.08" fill="#6cc3ea"/>
<circle cx="358.92" cy="81.85" r="1.08" fill="#6cc3ea"/>
<circle cx="353.57" cy="88.91" r="1.08" fill="#6cc3ea"/>
<circle cx="362.90" cy="61.90" r="1.08" fill="#6cc3ea"/>
<circle cx="364.10" cy="98.59" r="1.08" fill="#2266ad"/>
<circle cx="364.30" cy="95.64" r="1.08" fill="#2266ad"/>
<circle cx="365.46" cy="104.57" r="1.08" fill="#2266ad"/>
<circle cx="364.28" cy="103.82" r="1.08" fill="#2266ad"/>
<circle cx="378.61" cy="99.50" r="1.08" fill="#2266ad"/>
<circle cx="386.58" cy="93.76" r="1.08" fill="#2266ad"/>
<circle cx="381.73" cy="88.05" r="1.08" fill="#2266ad"/>
<circle cx="380.10" cy="96.66" r="1.08" fill="#2266ad"/>
<circle cx="386.44" cy="87.32" r="1.08" fill="#2266ad"/>
<circle cx="381.18" cy="99.91" r="1.08" fill="#2266ad"/>
<circle cx="382.08" cy="99.07" r="1.08" fill="#2266ad"/>
<circle cx="381.15" cy="86.51" r="1.08" fill="#2266ad"/>
<circle cx="381.70" cy="91.42" r="1.08" fill="#2266ad"/>
<circle cx="383.50" cy="91.91" r="1.08" fill="#2266ad"/>
<circle cx="386.45" cy="86.09" r="1.08" fill="#2266ad"/>
<circle cx="380.04" cy="103.13" r="1.08" fill="#2266ad"/>
<circle cx="386.53" cy="79.24" r="1.08" fill="#2266ad"/>
<circle cx="383.87" cy="98.99" r="1.08" fill="#2266ad"/>
<circle cx="381.72" cy="88.46" r="1.08" fill="#2266ad"/>
<circle cx="387.56" cy="78.83" r="1.08" fill="#2266ad"/>
<circle cx="385.73" cy="84.64" r="1.08" fill="#2266ad"/>
<circle cx="389.35" cy="85.05" r="1.08" fill="#2266ad"/>
<circle cx="381.23" cy="90.32" r="1.08" fill="#2266ad"/>
<circle cx="380.89" cy="95.63" r="1.08" fill="#2266ad"/>
<circle cx="386.55" cy="81.95" r="1.08" fill="#2266ad"/>
<circle cx="379.47" cy="100.53" r="1.08" fill="#2266ad"/>
<circle cx="380.14" cy="91.28" r="1.08" fill="#2266ad"/>
<circle cx="375.11" cy="101.99" r="1.08" fill="#2266ad"/>
<circle cx="381.23" cy="93.67" r="1.08" fill="#2266ad"/>
<circle cx="379.38" cy="101.58" r="1.08" fill="#2266ad"/>
<circle cx="377.87" cy="95.65" r="1.08" fill="#2266ad"/>
<circle cx="386.07" cy="81.42" r="1.08" fill="#2266ad"/>
<circle cx="382.45" cy="97.58" r="1.08" fill="#2266ad"/>
<circle cx="381.50" cy="88.80" r="1.08" fill="#2266ad"/>
<circle cx="379.86" cy="83.85" r="1.08" fill="#2266ad"/>
<circle cx="376.15" cy="99.11" r="1.08" fill="#2266ad"/>
<circle cx="380.76" cy="88.18" r="1.08" fill="#2266ad"/>
<circle cx="388.46" cy="95.36" r="1.08" fill="#2266ad"/>
<circle cx="383.40" cy="86.38" r="1.08" fill="#2266ad"/>
<circle cx="383.22" cy="95.64" r="1.08" fill="#2266ad"/>
<circle cx="383.63" cy="83.31" r="1.08" fill="#2266ad"/>
<circle cx="374.70" cy="98.32" r="1.08" fill="#2266ad"/>
<circle cx="383.58" cy="90.31" r="1.08" fill="#2266ad"/>
<circle cx="377.80" cy="91.56" r="1.08" fill="#2266ad"/>
<circle cx="391.49" cy="84.70" r="1.08" fill="#2266ad"/>
<circle cx="386.09" cy="90.62" r="1.08" fill="#2266ad"/>
<circle cx="387.38" cy="87.83" r="1.08" fill="#2266ad"/>
<circle cx="382.63" cy="98.78" r="1.08" fill="#2266ad"/>
<circle cx="356.77" cy="80.08" r="1.08" fill="#2266ad"/>
<circle cx="359.45" cy="96.53" r="1.08" fill="#2266ad"/>
<circle cx="354.98" cy="94.55" r="1.08" fill="#2266ad"/>
<circle cx="360.74" cy="86.31" r="1.08" fill="#2266ad"/>
<circle cx="355.13" cy="94.27" r="1.08" fill="#2266ad"/>
<circle cx="389.35" cy="93.63" r="1.08" fill="#2266ad"/>
<circle cx="394.38" cy="95.35" r="1.08" fill="#2266ad"/>
<circle cx="393.29" cy="90.81" r="1.08" fill="#2266ad"/>
<circle cx="391.56" cy="86.66" r="1.08" fill="#2266ad"/>
<circle cx="395.88" cy="82.78" r="1.08" fill="#2266ad"/>
<circle cx="397.37" cy="89.62" r="1.08" fill="#2266ad"/>
<circle cx="358.80" cy="59.80" r="1.08" fill="#2266ad"/>
<circle cx="381.90" cy="69.80" r="1.08" fill="#2266ad"/>
<circle cx="379.60" cy="71.10" r="1.08" fill="#2266ad"/>
<circle cx="390.80" cy="81.00" r="1.08" fill="#2266ad"/>
<circle cx="398.80" cy="87.80" r="1.08" fill="#2266ad"/>
<circle cx="354.40" cy="87.80" r="1.08" fill="#2266ad"/>
<circle cx="366.78" cy="102.44" r="1.08" fill="#7cc142"/>
<circle cx="373.98" cy="107.33" r="1.08" fill="#7cc142"/>
<circle cx="368.27" cy="105.41" r="1.08" fill="#7cc142"/>
<circle cx="367.75" cy="103.14" r="1.08" fill="#7cc142"/>
<circle cx="375.01" cy="107.83" r="1.08" fill="#7cc142"/>
<circle cx="372.18" cy="108.61" r="1.08" fill="#7cc142"/>
<circle cx="369.91" cy="108.20" r="1.08" fill="#7cc142"/>
<circle cx="367.59" cy="101.99" r="1.08" fill="#7cc142"/>
<circle cx="368.91" cy="106.90" r="1.08" fill="#7cc142"/>
<circle cx="367.77" cy="104.26" r="1.08" fill="#7cc142"/>
<circle cx="367.31" cy="103.34" r="1.08" fill="#7cc142"/>
<circle cx="372.90" cy="108.61" r="1.08" fill="#7cc142"/>
<circle cx="366.18" cy="101.70" r="1.08" fill="#7cc142"/>
<circle cx="373.06" cy="108.88" r="1.08" fill="#7cc142"/>
<circle cx="375.87" cy="105.38" r="1.08" fill="#7cc142"/>
<circle cx="371.92" cy="108.45" r="1.08" fill="#7cc142"/>
<circle cx="377.10" cy="104.87" r="1.08" fill="#7cc142"/>
<circle cx="370.74" cy="107.17" r="1.08" fill="#7cc142"/>
<circle cx="374.41" cy="107.56" r="1.08" fill="#7cc142"/>
<circle cx="371.66" cy="109.26" r="1.08" fill="#7cc142"/>
<circle cx="372.20" cy="107.75" r="1.08" fill="#7cc142"/>
<circle cx="374.67" cy="107.30" r="1.08" fill="#7cc142"/>
<circle cx="365.08" cy="103.87" r="1.08" fill="#7cc142"/>
<circle cx="364.81" cy="100.35" r="1.08" fill="#7cc142"/>
<circle cx="365.70" cy="101.84" r="1.08" fill="#7cc142"/>
<circle cx="368.24" cy="103.42" r="1.08" fill="#7cc142"/>
<circle cx="362.83" cy="97.78" r="1.08" fill="#7cc142"/>
<circle cx="371.73" cy="108.04" r="1.08" fill="#2e8b2a"/>
<circle cx="369.75" cy="108.71" r="1.08" fill="#2e8b2a"/>
<circle cx="368.28" cy="103.03" r="1.08" fill="#2e8b2a"/>
<circle cx="378.14" cy="102.06" r="1.08" fill="#2e8b2a"/>
<circle cx="368.17" cy="105.84" r="1.08" fill="#2e8b2a"/>
<circle cx="370.70" cy="108.92" r="1.08" fill="#2e8b2a"/>
<circle cx="377.45" cy="101.97" r="1.08" fill="#2e8b2a"/>
<circle cx="374.46" cy="107.53" r="1.08" fill="#2e8b2a"/>
<circle cx="367.18" cy="103.29" r="1.08" fill="#2e8b2a"/>
<circle cx="369.35" cy="105.44" r="1.08" fill="#2e8b2a"/>
<circle cx="375.29" cy="107.03" r="1.08" fill="#2e8b2a"/>
<circle cx="375.23" cy="107.12" r="1.08" fill="#2e8b2a"/>
<circle cx="374.86" cy="108.11" r="1.08" fill="#2e8b2a"/>
<circle cx="363.00" cy="97.82" r="1.08" fill="#2e8b2a"/>
<circle cx="365.63" cy="100.03" r="1.08" fill="#2e8b2a"/>
<circle cx="363.73" cy="99.30" r="1.08" fill="#2e8b2a"/>
<circle cx="366.10" cy="102.43" r="1.08" fill="#2e8b2a"/>
<circle cx="363.11" cy="96.77" r="1.08" fill="#2e8b2a"/>
<circle cx="366.61" cy="102.43" r="1.08" fill="#2e8b2a"/>
<circle cx="365.35" cy="105.00" r="1.08" fill="#2e8b2a"/>
<circle cx="366.04" cy="102.83" r="1.08" fill="#2e8b2a"/>
<circle cx="364.72" cy="103.46" r="1.08" fill="#2e8b2a"/>
<circle cx="363.35" cy="100.04" r="1.08" fill="#2e8b2a"/>
<circle cx="364.79" cy="101.43" r="1.08" fill="#2e8b2a"/>
<circle cx="353.10" cy="66.30" r="1.08" fill="#2e8b2a"/>
<text x="243.40" y="164.90" font-size="7.7" text-anchor="middle" fill="#231f20" font-weight="normal" stroke="#231f20" stroke-width="0.08">TET2 CD8+ T cells</text>
<line x1="195.00" y1="170.00" x2="195.00" y2="262.70" stroke="#1a1a1a" stroke-width="1.1" />
<line x1="192.20" y1="258.30" x2="195.00" y2="258.30" stroke="#1a1a1a" stroke-width="0.9" />
<text x="189.00" y="259.80" font-size="5.8" text-anchor="end" fill="#2a2a2a" font-weight="normal" stroke="#2a2a2a" stroke-width="0.12">0</text>
<line x1="192.20" y1="237.13" x2="195.00" y2="237.13" stroke="#1a1a1a" stroke-width="0.9" />
<text x="189.00" y="238.63" font-size="5.8" text-anchor="end" fill="#2a2a2a" font-weight="normal" stroke="#2a2a2a" stroke-width="0.12">10</text>
<line x1="192.20" y1="215.96" x2="195.00" y2="215.96" stroke="#1a1a1a" stroke-width="0.9" />
<text x="189.00" y="217.46" font-size="5.8" text-anchor="end" fill="#2a2a2a" font-weight="normal" stroke="#2a2a2a" stroke-width="0.12">20</text>
<line x1="192.20" y1="194.79" x2="195.00" y2="194.79" stroke="#1a1a1a" stroke-width="0.9" />
<text x="189.00" y="196.29" font-size="5.8" text-anchor="end" fill="#2a2a2a" font-weight="normal" stroke="#2a2a2a" stroke-width="0.12">30</text>
<line x1="192.20" y1="173.62" x2="195.00" y2="173.62" stroke="#1a1a1a" stroke-width="0.9" />
<text x="189.00" y="175.12" font-size="5.8" text-anchor="end" fill="#2a2a2a" font-weight="normal" stroke="#2a2a2a" stroke-width="0.12">40</text>
<line x1="194.50" y1="262.20" x2="292.60" y2="262.20" stroke="#1a1a1a" stroke-width="1.1" />
<line x1="214.00" y1="262.20" x2="214.00" y2="264.40" stroke="#1a1a1a" stroke-width="0.9" />
<text x="214.00" y="273.40" font-size="5.8" text-anchor="middle" fill="#2a2a2a" font-weight="normal" stroke="#2a2a2a" stroke-width="0.12">−2</text>
<line x1="243.90" y1="262.20" x2="243.90" y2="264.40" stroke="#1a1a1a" stroke-width="0.9" />
<text x="243.90" y="273.40" font-size="5.8" text-anchor="middle" fill="#2a2a2a" font-weight="normal" stroke="#2a2a2a" stroke-width="0.12">0</text>
<line x1="273.80" y1="262.20" x2="273.80" y2="264.40" stroke="#1a1a1a" stroke-width="0.9" />
<text x="273.80" y="273.40" font-size="5.8" text-anchor="middle" fill="#2a2a2a" font-weight="normal" stroke="#2a2a2a" stroke-width="0.12">2</text>
<text x="243.60" y="284.30" font-size="7.0" text-anchor="middle" fill="#1a1a1a" font-weight="normal" textLength="39.5" lengthAdjust="spacingAndGlyphs" stroke="#111" stroke-width="0.32">log2FoldChange</text>
<text x="0" y="0" font-size="7.0" font-weight="normal" text-anchor="middle" fill="#1a1a1a" stroke="#111" stroke-width="0.32" textLength="32.5" lengthAdjust="spacingAndGlyphs" transform="translate(177.00,215.10) rotate(-90)">-log10(padj)</text>
<circle cx="237.88" cy="230.03" r="1.08" fill="#cbcbcb"/>
<circle cx="235.49" cy="231.21" r="1.08" fill="#cbcbcb"/>
<circle cx="237.16" cy="243.89" r="1.08" fill="#cbcbcb"/>
<circle cx="238.84" cy="229.61" r="1.08" fill="#cbcbcb"/>
<circle cx="239.70" cy="232.97" r="1.08" fill="#cbcbcb"/>
<circle cx="240.58" cy="233.36" r="1.08" fill="#cbcbcb"/>
<circle cx="235.07" cy="231.74" r="1.08" fill="#cbcbcb"/>
<circle cx="237.31" cy="234.22" r="1.08" fill="#cbcbcb"/>
<circle cx="236.65" cy="238.88" r="1.08" fill="#cbcbcb"/>
<circle cx="239.12" cy="236.54" r="1.08" fill="#cbcbcb"/>
<circle cx="235.25" cy="231.88" r="1.08" fill="#cbcbcb"/>
<circle cx="237.27" cy="230.55" r="1.08" fill="#cbcbcb"/>
<circle cx="257.06" cy="233.85" r="1.08" fill="#cbcbcb"/>
<circle cx="256.55" cy="233.73" r="1.08" fill="#cbcbcb"/>
<circle cx="250.93" cy="229.08" r="1.08" fill="#cbcbcb"/>
<circle cx="253.51" cy="228.42" r="1.08" fill="#cbcbcb"/>
<circle cx="256.92" cy="233.71" r="1.08" fill="#cbcbcb"/>
<circle cx="260.36" cy="236.49" r="1.08" fill="#cbcbcb"/>
<circle cx="248.77" cy="233.20" r="1.08" fill="#cbcbcb"/>
<circle cx="261.46" cy="234.91" r="1.08" fill="#cbcbcb"/>
<circle cx="254.93" cy="239.84" r="1.08" fill="#cbcbcb"/>
<circle cx="252.21" cy="230.10" r="1.08" fill="#cbcbcb"/>
<circle cx="259.58" cy="236.59" r="1.08" fill="#cbcbcb"/>
<circle cx="257.80" cy="235.33" r="1.08" fill="#cbcbcb"/>
<circle cx="258.79" cy="229.72" r="1.08" fill="#cbcbcb"/>
<circle cx="257.48" cy="231.56" r="1.08" fill="#cbcbcb"/>
<circle cx="257.14" cy="230.83" r="1.08" fill="#cbcbcb"/>
<circle cx="252.29" cy="242.13" r="1.08" fill="#cbcbcb"/>
<circle cx="256.60" cy="232.62" r="1.08" fill="#cbcbcb"/>
<circle cx="260.26" cy="229.11" r="1.08" fill="#cbcbcb"/>
<circle cx="257.93" cy="228.68" r="1.08" fill="#cbcbcb"/>
<circle cx="256.07" cy="236.20" r="1.08" fill="#cbcbcb"/>
<circle cx="257.66" cy="226.60" r="1.08" fill="#cbcbcb"/>
<circle cx="254.04" cy="232.67" r="1.08" fill="#cbcbcb"/>
<circle cx="261.84" cy="236.93" r="1.08" fill="#cbcbcb"/>
<circle cx="247.31" cy="240.30" r="1.08" fill="#cbcbcb"/>
<circle cx="261.80" cy="224.97" r="1.08" fill="#cbcbcb"/>
<circle cx="261.16" cy="225.03" r="1.08" fill="#cbcbcb"/>
<circle cx="255.94" cy="237.04" r="1.08" fill="#cbcbcb"/>
<circle cx="254.11" cy="233.03" r="1.08" fill="#cbcbcb"/>
<circle cx="256.91" cy="232.15" r="1.08" fill="#cbcbcb"/>
<circle cx="265.09" cy="230.06" r="1.08" fill="#cbcbcb"/>
<circle cx="250.69" cy="244.69" r="1.08" fill="#cbcbcb"/>
<circle cx="250.55" cy="229.76" r="1.08" fill="#cbcbcb"/>
<circle cx="260.61" cy="223.24" r="1.08" fill="#cbcbcb"/>
<circle cx="260.51" cy="224.05" r="1.08" fill="#cbcbcb"/>
<circle cx="263.12" cy="229.76" r="1.08" fill="#cbcbcb"/>
<circle cx="265.67" cy="226.65" r="1.08" fill="#cbcbcb"/>
<circle cx="257.66" cy="227.61" r="1.08" fill="#cbcbcb"/>
<circle cx="259.87" cy="232.36" r="1.08" fill="#cbcbcb"/>
<circle cx="255.71" cy="235.59" r="1.08" fill="#cbcbcb"/>
<circle cx="264.51" cy="228.06" r="1.08" fill="#cbcbcb"/>
<circle cx="256.16" cy="230.16" r="1.08" fill="#cbcbcb"/>
<circle cx="256.86" cy="227.28" r="1.08" fill="#cbcbcb"/>
<circle cx="259.39" cy="229.74" r="1.08" fill="#cbcbcb"/>
<circle cx="256.36" cy="242.03" r="1.08" fill="#cbcbcb"/>
<circle cx="251.90" cy="197.10" r="1.08" fill="#cbcbcb"/>
<circle cx="249.00" cy="201.80" r="1.08" fill="#cbcbcb"/>
<circle cx="266.60" cy="219.20" r="1.08" fill="#cbcbcb"/>
<circle cx="248.00" cy="222.40" r="1.08" fill="#cbcbcb"/>
<circle cx="265.00" cy="232.00" r="1.08" fill="#cbcbcb"/>
<circle cx="249.80" cy="253.38" r="1.08" fill="#6cc3ea"/>
<circle cx="251.33" cy="248.82" r="1.08" fill="#6cc3ea"/>
<circle cx="250.86" cy="250.20" r="1.08" fill="#6cc3ea"/>
<circle cx="254.19" cy="247.32" r="1.08" fill="#6cc3ea"/>
<circle cx="248.01" cy="252.03" r="1.08" fill="#6cc3ea"/>
<circle cx="257.87" cy="242.89" r="1.08" fill="#6cc3ea"/>
<circle cx="249.88" cy="247.79" r="1.08" fill="#6cc3ea"/>
<circle cx="253.16" cy="242.17" r="1.08" fill="#6cc3ea"/>
<circle cx="253.01" cy="249.77" r="1.08" fill="#6cc3ea"/>
<circle cx="249.27" cy="245.11" r="1.08" fill="#6cc3ea"/>
<circle cx="252.30" cy="249.13" r="1.08" fill="#6cc3ea"/>
<circle cx="253.22" cy="248.33" r="1.08" fill="#6cc3ea"/>
<circle cx="250.86" cy="251.61" r="1.08" fill="#6cc3ea"/>
<circle cx="251.98" cy="243.40" r="1.08" fill="#6cc3ea"/>
<circle cx="254.18" cy="244.16" r="1.08" fill="#6cc3ea"/>
<circle cx="254.11" cy="243.87" r="1.08" fill="#6cc3ea"/>
<circle cx="249.92" cy="246.42" r="1.08" fill="#6cc3ea"/>
<circle cx="254.28" cy="251.78" r="1.08" fill="#6cc3ea"/>
<circle cx="252.69" cy="242.79" r="1.08" fill="#6cc3ea"/>
<circle cx="252.82" cy="247.37" r="1.08" fill="#6cc3ea"/>
<circle cx="255.17" cy="247.26" r="1.08" fill="#6cc3ea"/>
<circle cx="249.07" cy="253.19" r="1.08" fill="#6cc3ea"/>
<circle cx="250.43" cy="252.89" r="1.08" fill="#6cc3ea"/>
<circle cx="238.77" cy="247.79" r="1.08" fill="#6cc3ea"/>
<circle cx="238.06" cy="251.98" r="1.08" fill="#6cc3ea"/>
<circle cx="237.85" cy="250.20" r="1.08" fill="#6cc3ea"/>
<circle cx="238.23" cy="248.25" r="1.08" fill="#6cc3ea"/>
<circle cx="238.63" cy="251.89" r="1.08" fill="#6cc3ea"/>
<circle cx="235.38" cy="247.03" r="1.08" fill="#6cc3ea"/>
<circle cx="254.75" cy="242.65" r="1.08" fill="#6cc3ea"/>
<circle cx="256.74" cy="241.41" r="1.08" fill="#6cc3ea"/>
<circle cx="253.34" cy="239.16" r="1.08" fill="#6cc3ea"/>
<circle cx="254.72" cy="234.95" r="1.08" fill="#6cc3ea"/>
<circle cx="251.87" cy="229.41" r="1.08" fill="#6cc3ea"/>
<circle cx="257.78" cy="237.20" r="1.08" fill="#6cc3ea"/>
<circle cx="256.26" cy="234.37" r="1.08" fill="#6cc3ea"/>
<circle cx="253.46" cy="249.46" r="1.08" fill="#2266ad"/>
<circle cx="250.56" cy="255.65" r="1.08" fill="#2266ad"/>
<circle cx="254.92" cy="245.02" r="1.08" fill="#2266ad"/>
<circle cx="253.09" cy="250.24" r="1.08" fill="#2266ad"/>
<circle cx="253.40" cy="253.64" r="1.08" fill="#2266ad"/>
<circle cx="251.72" cy="250.11" r="1.08" fill="#2266ad"/>
<circle cx="252.71" cy="248.60" r="1.08" fill="#2266ad"/>
<circle cx="253.02" cy="252.54" r="1.08" fill="#2266ad"/>
<circle cx="251.29" cy="250.20" r="1.08" fill="#2266ad"/>
<circle cx="257.69" cy="242.72" r="1.08" fill="#2266ad"/>
<circle cx="251.24" cy="251.05" r="1.08" fill="#2266ad"/>
<circle cx="252.90" cy="245.39" r="1.08" fill="#2266ad"/>
<circle cx="253.09" cy="246.14" r="1.08" fill="#2266ad"/>
<circle cx="251.54" cy="244.23" r="1.08" fill="#2266ad"/>
<circle cx="250.29" cy="243.52" r="1.08" fill="#2266ad"/>
<circle cx="255.39" cy="245.26" r="1.08" fill="#2266ad"/>
<circle cx="255.48" cy="244.51" r="1.08" fill="#2266ad"/>
<circle cx="252.76" cy="246.88" r="1.08" fill="#2266ad"/>
<circle cx="252.63" cy="251.22" r="1.08" fill="#2266ad"/>
<circle cx="236.18" cy="245.39" r="1.08" fill="#2266ad"/>
<circle cx="238.50" cy="252.78" r="1.08" fill="#2266ad"/>
<circle cx="239.30" cy="252.66" r="1.08" fill="#2266ad"/>
<circle cx="237.50" cy="246.08" r="1.08" fill="#2266ad"/>
<circle cx="237.38" cy="247.72" r="1.08" fill="#2266ad"/>
<circle cx="235.57" cy="246.55" r="1.08" fill="#2266ad"/>
<circle cx="239.48" cy="251.01" r="1.08" fill="#2266ad"/>
<circle cx="237.91" cy="251.71" r="1.08" fill="#2266ad"/>
<circle cx="254.58" cy="227.51" r="1.08" fill="#2266ad"/>
<circle cx="257.26" cy="225.21" r="1.08" fill="#2266ad"/>
<circle cx="248.84" cy="243.43" r="1.08" fill="#2266ad"/>
<circle cx="256.75" cy="230.31" r="1.08" fill="#2266ad"/>
<circle cx="251.19" cy="235.53" r="1.08" fill="#2266ad"/>
<circle cx="254.45" cy="236.29" r="1.08" fill="#2266ad"/>
<circle cx="255.22" cy="230.72" r="1.08" fill="#2266ad"/>
<circle cx="256.31" cy="226.39" r="1.08" fill="#2266ad"/>
<circle cx="253.47" cy="246.23" r="1.08" fill="#2266ad"/>
<circle cx="223.70" cy="218.20" r="1.08" fill="#2266ad"/>
<circle cx="263.40" cy="227.20" r="1.08" fill="#2266ad"/>
<circle cx="256.00" cy="234.60" r="1.08" fill="#2266ad"/>
<circle cx="252.80" cy="243.00" r="1.08" fill="#2266ad"/>
<circle cx="228.50" cy="248.70" r="1.08" fill="#2266ad"/>
<circle cx="230.60" cy="249.40" r="1.08" fill="#2266ad"/>
<circle cx="235.90" cy="247.80" r="1.08" fill="#2266ad"/>
<circle cx="235.90" cy="252.60" r="1.08" fill="#2266ad"/>
<circle cx="259.20" cy="254.70" r="1.08" fill="#2266ad"/>
<circle cx="241.75" cy="254.72" r="1.08" fill="#7cc142"/>
<circle cx="241.50" cy="256.32" r="1.08" fill="#7cc142"/>
<circle cx="239.12" cy="252.69" r="1.08" fill="#7cc142"/>
<circle cx="249.10" cy="253.82" r="1.08" fill="#7cc142"/>
<circle cx="250.52" cy="252.52" r="1.08" fill="#7cc142"/>
<circle cx="249.36" cy="253.09" r="1.08" fill="#7cc142"/>
<circle cx="245.65" cy="256.22" r="1.08" fill="#7cc142"/>
<circle cx="244.50" cy="256.90" r="1.08" fill="#7cc142"/>
<circle cx="241.18" cy="255.09" r="1.08" fill="#7cc142"/>
<circle cx="249.71" cy="253.51" r="1.08" fill="#7cc142"/>
<circle cx="240.20" cy="253.69" r="1.08" fill="#7cc142"/>
<circle cx="247.00" cy="256.77" r="1.08" fill="#7cc142"/>
<circle cx="249.77" cy="253.53" r="1.08" fill="#7cc142"/>
<circle cx="243.43" cy="256.00" r="1.08" fill="#7cc142"/>
<circle cx="246.17" cy="256.00" r="1.08" fill="#7cc142"/>
<circle cx="245.49" cy="256.18" r="1.08" fill="#7cc142"/>
<circle cx="242.99" cy="256.49" r="1.08" fill="#7cc142"/>
<circle cx="240.38" cy="254.12" r="1.08" fill="#7cc142"/>
<circle cx="243.16" cy="256.18" r="1.08" fill="#7cc142"/>
<circle cx="240.31" cy="254.47" r="1.08" fill="#7cc142"/>
<circle cx="239.37" cy="253.49" r="1.08" fill="#7cc142"/>
<circle cx="238.71" cy="252.81" r="1.08" fill="#7cc142"/>
<circle cx="238.06" cy="252.64" r="1.08" fill="#7cc142"/>
<circle cx="248.54" cy="255.89" r="1.08" fill="#7cc142"/>
<circle cx="242.19" cy="256.69" r="1.08" fill="#7cc142"/>
<circle cx="241.27" cy="255.16" r="1.08" fill="#2e8b2a"/>
<circle cx="248.31" cy="256.15" r="1.08" fill="#2e8b2a"/>
<circle cx="244.87" cy="255.82" r="1.08" fill="#2e8b2a"/>
<circle cx="242.90" cy="256.49" r="1.08" fill="#2e8b2a"/>
<circle cx="241.25" cy="255.71" r="1.08" fill="#2e8b2a"/>
<circle cx="240.13" cy="254.17" r="1.08" fill="#2e8b2a"/>
<circle cx="245.51" cy="256.50" r="1.08" fill="#2e8b2a"/>
<circle cx="244.32" cy="256.74" r="1.08" fill="#2e8b2a"/>
<circle cx="241.63" cy="254.48" r="1.08" fill="#2e8b2a"/>
<circle cx="245.78" cy="256.81" r="1.08" fill="#2e8b2a"/>
<circle cx="241.35" cy="255.16" r="1.08" fill="#2e8b2a"/>
<circle cx="240.08" cy="252.72" r="1.08" fill="#2e8b2a"/>
<circle cx="242.84" cy="256.72" r="1.08" fill="#2e8b2a"/>
<circle cx="250.22" cy="254.94" r="1.08" fill="#2e8b2a"/>
<circle cx="242.52" cy="256.00" r="1.08" fill="#2e8b2a"/>
<text x="372.50" y="164.90" font-size="7.7" text-anchor="middle" fill="#231f20" font-weight="normal" stroke="#231f20" stroke-width="0.08">DNMT3A CD8+ T cells</text>
<line x1="324.10" y1="170.00" x2="324.10" y2="262.70" stroke="#1a1a1a" stroke-width="1.1" />
<line x1="321.30" y1="258.30" x2="324.10" y2="258.30" stroke="#1a1a1a" stroke-width="0.9" />
<text x="318.10" y="259.80" font-size="5.8" text-anchor="end" fill="#2a2a2a" font-weight="normal" stroke="#2a2a2a" stroke-width="0.12">0</text>
<line x1="321.30" y1="237.13" x2="324.10" y2="237.13" stroke="#1a1a1a" stroke-width="0.9" />
<text x="318.10" y="238.63" font-size="5.8" text-anchor="end" fill="#2a2a2a" font-weight="normal" stroke="#2a2a2a" stroke-width="0.12">10</text>
<line x1="321.30" y1="215.96" x2="324.10" y2="215.96" stroke="#1a1a1a" stroke-width="0.9" />
<text x="318.10" y="217.46" font-size="5.8" text-anchor="end" fill="#2a2a2a" font-weight="normal" stroke="#2a2a2a" stroke-width="0.12">20</text>
<line x1="321.30" y1="194.79" x2="324.10" y2="194.79" stroke="#1a1a1a" stroke-width="0.9" />
<text x="318.10" y="196.29" font-size="5.8" text-anchor="end" fill="#2a2a2a" font-weight="normal" stroke="#2a2a2a" stroke-width="0.12">30</text>
<line x1="321.30" y1="173.62" x2="324.10" y2="173.62" stroke="#1a1a1a" stroke-width="0.9" />
<text x="318.10" y="175.12" font-size="5.8" text-anchor="end" fill="#2a2a2a" font-weight="normal" stroke="#2a2a2a" stroke-width="0.12">40</text>
<line x1="323.60" y1="262.20" x2="421.70" y2="262.20" stroke="#1a1a1a" stroke-width="1.1" />
<line x1="343.10" y1="262.20" x2="343.10" y2="264.40" stroke="#1a1a1a" stroke-width="0.9" />
<text x="343.10" y="273.40" font-size="5.8" text-anchor="middle" fill="#2a2a2a" font-weight="normal" stroke="#2a2a2a" stroke-width="0.12">−2</text>
<line x1="373.00" y1="262.20" x2="373.00" y2="264.40" stroke="#1a1a1a" stroke-width="0.9" />
<text x="373.00" y="273.40" font-size="5.8" text-anchor="middle" fill="#2a2a2a" font-weight="normal" stroke="#2a2a2a" stroke-width="0.12">0</text>
<line x1="402.90" y1="262.20" x2="402.90" y2="264.40" stroke="#1a1a1a" stroke-width="0.9" />
<text x="402.90" y="273.40" font-size="5.8" text-anchor="middle" fill="#2a2a2a" font-weight="normal" stroke="#2a2a2a" stroke-width="0.12">2</text>
<text x="372.70" y="284.30" font-size="7.0" text-anchor="middle" fill="#1a1a1a" font-weight="normal" textLength="39.5" lengthAdjust="spacingAndGlyphs" stroke="#111" stroke-width="0.32">log2FoldChange</text>
<text x="0" y="0" font-size="7.0" font-weight="normal" text-anchor="middle" fill="#1a1a1a" stroke="#111" stroke-width="0.32" textLength="32.5" lengthAdjust="spacingAndGlyphs" transform="translate(306.10,215.10) rotate(-90)">-log10(padj)</text>
<circle cx="360.99" cy="244.35" r="1.08" fill="#cbcbcb"/>
<circle cx="363.65" cy="225.84" r="1.08" fill="#cbcbcb"/>
<circle cx="362.82" cy="225.99" r="1.08" fill="#cbcbcb"/>
<circle cx="363.44" cy="231.11" r="1.08" fill="#cbcbcb"/>
<circle cx="361.84" cy="220.98" r="1.08" fill="#cbcbcb"/>
<circle cx="360.16" cy="239.26" r="1.08" fill="#cbcbcb"/>
<circle cx="361.34" cy="229.57" r="1.08" fill="#cbcbcb"/>
<circle cx="364.08" cy="241.72" r="1.08" fill="#cbcbcb"/>
<circle cx="364.99" cy="219.27" r="1.08" fill="#cbcbcb"/>
<circle cx="358.71" cy="222.87" r="1.08" fill="#cbcbcb"/>
<circle cx="356.50" cy="225.00" r="1.08" fill="#cbcbcb"/>
<circle cx="362.75" cy="223.19" r="1.08" fill="#cbcbcb"/>
<circle cx="360.67" cy="235.14" r="1.08" fill="#cbcbcb"/>
<circle cx="364.62" cy="238.06" r="1.08" fill="#cbcbcb"/>
<circle cx="366.09" cy="243.36" r="1.08" fill="#cbcbcb"/>
<circle cx="364.78" cy="244.75" r="1.08" fill="#cbcbcb"/>
<circle cx="364.73" cy="221.69" r="1.08" fill="#cbcbcb"/>
<circle cx="365.13" cy="245.01" r="1.08" fill="#cbcbcb"/>
<circle cx="362.29" cy="226.26" r="1.08" fill="#cbcbcb"/>
<circle cx="356.83" cy="215.43" r="1.08" fill="#cbcbcb"/>
<circle cx="366.27" cy="243.78" r="1.08" fill="#cbcbcb"/>
<circle cx="362.21" cy="240.64" r="1.08" fill="#cbcbcb"/>
<circle cx="358.12" cy="235.31" r="1.08" fill="#cbcbcb"/>
<circle cx="362.64" cy="233.95" r="1.08" fill="#cbcbcb"/>
<circle cx="363.51" cy="229.92" r="1.08" fill="#cbcbcb"/>
<circle cx="362.50" cy="234.13" r="1.08" fill="#cbcbcb"/>
<circle cx="366.90" cy="229.53" r="1.08" fill="#cbcbcb"/>
<circle cx="365.68" cy="232.00" r="1.08" fill="#cbcbcb"/>
<circle cx="366.49" cy="240.57" r="1.08" fill="#cbcbcb"/>
<circle cx="364.49" cy="227.05" r="1.08" fill="#cbcbcb"/>
<circle cx="361.50" cy="214.77" r="1.08" fill="#cbcbcb"/>
<circle cx="367.72" cy="245.38" r="1.08" fill="#cbcbcb"/>
<circle cx="371.88" cy="243.79" r="1.08" fill="#cbcbcb"/>
<circle cx="365.21" cy="239.43" r="1.08" fill="#cbcbcb"/>
<circle cx="365.03" cy="220.49" r="1.08" fill="#cbcbcb"/>
<circle cx="363.63" cy="226.63" r="1.08" fill="#cbcbcb"/>
<circle cx="361.50" cy="246.37" r="1.08" fill="#cbcbcb"/>
<circle cx="369.26" cy="243.39" r="1.08" fill="#cbcbcb"/>
<circle cx="363.13" cy="225.09" r="1.08" fill="#cbcbcb"/>
<circle cx="358.05" cy="228.67" r="1.08" fill="#cbcbcb"/>
<circle cx="365.89" cy="245.30" r="1.08" fill="#cbcbcb"/>
<circle cx="368.22" cy="244.61" r="1.08" fill="#cbcbcb"/>
<circle cx="362.05" cy="216.71" r="1.08" fill="#cbcbcb"/>
<circle cx="364.85" cy="239.93" r="1.08" fill="#cbcbcb"/>
<circle cx="364.71" cy="240.61" r="1.08" fill="#cbcbcb"/>
<circle cx="360.68" cy="217.48" r="1.08" fill="#cbcbcb"/>
<circle cx="365.13" cy="225.72" r="1.08" fill="#cbcbcb"/>
<circle cx="359.74" cy="238.58" r="1.08" fill="#cbcbcb"/>
<circle cx="371.53" cy="234.57" r="1.08" fill="#cbcbcb"/>
<circle cx="365.22" cy="220.53" r="1.08" fill="#cbcbcb"/>
<circle cx="361.69" cy="215.54" r="1.08" fill="#cbcbcb"/>
<circle cx="362.92" cy="230.23" r="1.08" fill="#cbcbcb"/>
<circle cx="368.88" cy="240.98" r="1.08" fill="#cbcbcb"/>
<circle cx="363.57" cy="241.38" r="1.08" fill="#cbcbcb"/>
<circle cx="362.56" cy="236.10" r="1.08" fill="#cbcbcb"/>
<circle cx="389.26" cy="215.14" r="1.08" fill="#cbcbcb"/>
<circle cx="396.50" cy="221.04" r="1.08" fill="#cbcbcb"/>
<circle cx="389.48" cy="243.57" r="1.08" fill="#cbcbcb"/>
<circle cx="390.19" cy="226.73" r="1.08" fill="#cbcbcb"/>
<circle cx="389.80" cy="219.46" r="1.08" fill="#cbcbcb"/>
<circle cx="382.10" cy="231.80" r="1.08" fill="#cbcbcb"/>
<circle cx="389.02" cy="223.37" r="1.08" fill="#cbcbcb"/>
<circle cx="383.94" cy="223.73" r="1.08" fill="#cbcbcb"/>
<circle cx="378.04" cy="240.03" r="1.08" fill="#cbcbcb"/>
<circle cx="380.39" cy="232.69" r="1.08" fill="#cbcbcb"/>
<circle cx="383.56" cy="235.41" r="1.08" fill="#cbcbcb"/>
<circle cx="384.75" cy="243.40" r="1.08" fill="#cbcbcb"/>
<circle cx="382.84" cy="233.53" r="1.08" fill="#cbcbcb"/>
<circle cx="384.44" cy="230.97" r="1.08" fill="#cbcbcb"/>
<circle cx="389.37" cy="213.43" r="1.08" fill="#cbcbcb"/>
<circle cx="380.84" cy="221.06" r="1.08" fill="#cbcbcb"/>
<circle cx="380.34" cy="238.29" r="1.08" fill="#cbcbcb"/>
<circle cx="381.66" cy="237.15" r="1.08" fill="#cbcbcb"/>
<circle cx="387.51" cy="244.10" r="1.08" fill="#cbcbcb"/>
<circle cx="385.72" cy="221.73" r="1.08" fill="#cbcbcb"/>
<circle cx="381.84" cy="229.79" r="1.08" fill="#cbcbcb"/>
<circle cx="384.63" cy="226.05" r="1.08" fill="#cbcbcb"/>
<circle cx="383.68" cy="223.95" r="1.08" fill="#cbcbcb"/>
<circle cx="399.18" cy="217.72" r="1.08" fill="#cbcbcb"/>
<circle cx="383.86" cy="218.66" r="1.08" fill="#cbcbcb"/>
<circle cx="379.15" cy="244.76" r="1.08" fill="#cbcbcb"/>
<circle cx="376.31" cy="238.72" r="1.08" fill="#cbcbcb"/>
<circle cx="390.91" cy="212.67" r="1.08" fill="#cbcbcb"/>
<circle cx="379.71" cy="245.23" r="1.08" fill="#cbcbcb"/>
<circle cx="387.97" cy="228.90" r="1.08" fill="#cbcbcb"/>
<circle cx="387.37" cy="245.20" r="1.08" fill="#cbcbcb"/>
<circle cx="388.08" cy="230.82" r="1.08" fill="#cbcbcb"/>
<circle cx="381.03" cy="231.79" r="1.08" fill="#cbcbcb"/>
<circle cx="389.68" cy="223.43" r="1.08" fill="#cbcbcb"/>
<circle cx="379.46" cy="240.76" r="1.08" fill="#cbcbcb"/>
<circle cx="377.21" cy="245.10" r="1.08" fill="#cbcbcb"/>
<circle cx="379.27" cy="226.72" r="1.08" fill="#cbcbcb"/>
<circle cx="388.85" cy="214.63" r="1.08" fill="#cbcbcb"/>
<circle cx="384.11" cy="240.54" r="1.08" fill="#cbcbcb"/>
<circle cx="381.57" cy="233.46" r="1.08" fill="#cbcbcb"/>
<circle cx="389.07" cy="218.43" r="1.08" fill="#cbcbcb"/>
<circle cx="378.29" cy="241.45" r="1.08" fill="#cbcbcb"/>
<circle cx="381.00" cy="215.17" r="1.08" fill="#cbcbcb"/>
<circle cx="383.46" cy="238.70" r="1.08" fill="#cbcbcb"/>
<circle cx="381.36" cy="228.78" r="1.08" fill="#cbcbcb"/>
<circle cx="393.45" cy="214.81" r="1.08" fill="#cbcbcb"/>
<circle cx="383.38" cy="212.79" r="1.08" fill="#cbcbcb"/>
<circle cx="388.72" cy="220.27" r="1.08" fill="#cbcbcb"/>
<circle cx="390.35" cy="235.00" r="1.08" fill="#cbcbcb"/>
<circle cx="393.99" cy="219.69" r="1.08" fill="#cbcbcb"/>
<circle cx="388.89" cy="215.18" r="1.08" fill="#cbcbcb"/>
<circle cx="382.54" cy="232.37" r="1.08" fill="#cbcbcb"/>
<circle cx="376.40" cy="242.61" r="1.08" fill="#cbcbcb"/>
<circle cx="392.13" cy="230.98" r="1.08" fill="#cbcbcb"/>
<circle cx="390.41" cy="226.91" r="1.08" fill="#cbcbcb"/>
<circle cx="386.43" cy="218.51" r="1.08" fill="#cbcbcb"/>
<circle cx="386.24" cy="220.87" r="1.08" fill="#cbcbcb"/>
<circle cx="387.08" cy="218.59" r="1.08" fill="#cbcbcb"/>
<circle cx="380.24" cy="236.16" r="1.08" fill="#cbcbcb"/>
<circle cx="389.64" cy="230.16" r="1.08" fill="#cbcbcb"/>
<circle cx="389.49" cy="218.66" r="1.08" fill="#cbcbcb"/>
<circle cx="384.32" cy="238.70" r="1.08" fill="#cbcbcb"/>
<circle cx="394.69" cy="228.86" r="1.08" fill="#cbcbcb"/>
<circle cx="400.01" cy="240.64" r="1.08" fill="#cbcbcb"/>
<circle cx="395.40" cy="238.64" r="1.08" fill="#cbcbcb"/>
<circle cx="401.28" cy="243.17" r="1.08" fill="#cbcbcb"/>
<circle cx="392.01" cy="225.66" r="1.08" fill="#cbcbcb"/>
<circle cx="393.73" cy="240.38" r="1.08" fill="#cbcbcb"/>
<circle cx="404.34" cy="215.95" r="1.08" fill="#cbcbcb"/>
<circle cx="405.66" cy="227.80" r="1.08" fill="#cbcbcb"/>
<circle cx="404.16" cy="243.13" r="1.08" fill="#cbcbcb"/>
<circle cx="398.25" cy="242.01" r="1.08" fill="#cbcbcb"/>
<circle cx="397.96" cy="248.11" r="1.08" fill="#cbcbcb"/>
<circle cx="401.74" cy="227.40" r="1.08" fill="#cbcbcb"/>
<circle cx="402.59" cy="246.12" r="1.08" fill="#cbcbcb"/>
<circle cx="399.03" cy="235.30" r="1.08" fill="#cbcbcb"/>
<circle cx="344.70" cy="214.40" r="1.08" fill="#cbcbcb"/>
<circle cx="354.10" cy="211.70" r="1.08" fill="#cbcbcb"/>
<circle cx="386.40" cy="207.00" r="1.08" fill="#cbcbcb"/>
<circle cx="404.60" cy="219.80" r="1.08" fill="#cbcbcb"/>
<circle cx="407.30" cy="245.40" r="1.08" fill="#cbcbcb"/>
<circle cx="360.30" cy="250.45" r="1.08" fill="#6cc3ea"/>
<circle cx="364.52" cy="250.96" r="1.08" fill="#6cc3ea"/>
<circle cx="367.64" cy="251.77" r="1.08" fill="#6cc3ea"/>
<circle cx="364.47" cy="245.20" r="1.08" fill="#6cc3ea"/>
<circle cx="361.39" cy="246.42" r="1.08" fill="#6cc3ea"/>
<circle cx="359.58" cy="242.04" r="1.08" fill="#6cc3ea"/>
<circle cx="360.44" cy="238.19" r="1.08" fill="#6cc3ea"/>
<circle cx="363.92" cy="245.22" r="1.08" fill="#6cc3ea"/>
<circle cx="364.01" cy="253.45" r="1.08" fill="#6cc3ea"/>
<circle cx="369.31" cy="251.38" r="1.08" fill="#6cc3ea"/>
<circle cx="360.47" cy="242.54" r="1.08" fill="#6cc3ea"/>
<circle cx="364.13" cy="249.27" r="1.08" fill="#6cc3ea"/>
<circle cx="362.15" cy="244.33" r="1.08" fill="#6cc3ea"/>
<circle cx="362.11" cy="247.55" r="1.08" fill="#6cc3ea"/>
<circle cx="364.90" cy="250.96" r="1.08" fill="#6cc3ea"/>
<circle cx="361.88" cy="245.13" r="1.08" fill="#6cc3ea"/>
<circle cx="365.25" cy="248.31" r="1.08" fill="#6cc3ea"/>
<circle cx="358.42" cy="240.88" r="1.08" fill="#6cc3ea"/>
<circle cx="360.44" cy="241.12" r="1.08" fill="#6cc3ea"/>
<circle cx="385.92" cy="238.81" r="1.08" fill="#6cc3ea"/>
<circle cx="383.65" cy="242.41" r="1.08" fill="#6cc3ea"/>
<circle cx="382.31" cy="250.01" r="1.08" fill="#6cc3ea"/>
<circle cx="379.23" cy="251.86" r="1.08" fill="#6cc3ea"/>
<circle cx="382.20" cy="245.39" r="1.08" fill="#6cc3ea"/>
<circle cx="373.88" cy="249.86" r="1.08" fill="#6cc3ea"/>
<circle cx="384.65" cy="241.15" r="1.08" fill="#6cc3ea"/>
<circle cx="383.37" cy="245.88" r="1.08" fill="#6cc3ea"/>
<circle cx="386.68" cy="240.41" r="1.08" fill="#6cc3ea"/>
<circle cx="380.94" cy="249.39" r="1.08" fill="#6cc3ea"/>
<circle cx="382.55" cy="244.26" r="1.08" fill="#6cc3ea"/>
<circle cx="382.56" cy="249.60" r="1.08" fill="#6cc3ea"/>
<circle cx="381.29" cy="252.04" r="1.08" fill="#6cc3ea"/>
<circle cx="391.11" cy="241.41" r="1.08" fill="#6cc3ea"/>
<circle cx="381.90" cy="247.14" r="1.08" fill="#6cc3ea"/>
<circle cx="384.79" cy="236.36" r="1.08" fill="#6cc3ea"/>
<circle cx="384.42" cy="242.25" r="1.08" fill="#6cc3ea"/>
<circle cx="385.58" cy="237.83" r="1.08" fill="#6cc3ea"/>
<circle cx="383.95" cy="245.94" r="1.08" fill="#6cc3ea"/>
<circle cx="381.83" cy="246.84" r="1.08" fill="#6cc3ea"/>
<circle cx="376.75" cy="248.58" r="1.08" fill="#6cc3ea"/>
<circle cx="386.42" cy="235.18" r="1.08" fill="#6cc3ea"/>
<circle cx="373.58" cy="254.63" r="1.08" fill="#6cc3ea"/>
<circle cx="384.23" cy="245.38" r="1.08" fill="#6cc3ea"/>
<circle cx="385.89" cy="248.65" r="1.08" fill="#6cc3ea"/>
<circle cx="385.51" cy="244.67" r="1.08" fill="#6cc3ea"/>
<circle cx="389.99" cy="235.90" r="1.08" fill="#6cc3ea"/>
<circle cx="373.35" cy="257.25" r="1.08" fill="#6cc3ea"/>
<circle cx="379.48" cy="248.40" r="1.08" fill="#6cc3ea"/>
<circle cx="385.95" cy="248.22" r="1.08" fill="#6cc3ea"/>
<circle cx="383.50" cy="245.88" r="1.08" fill="#6cc3ea"/>
<circle cx="382.70" cy="239.01" r="1.08" fill="#6cc3ea"/>
<circle cx="390.66" cy="236.80" r="1.08" fill="#6cc3ea"/>
<circle cx="386.02" cy="248.05" r="1.08" fill="#6cc3ea"/>
<circle cx="379.88" cy="248.19" r="1.08" fill="#6cc3ea"/>
<circle cx="381.54" cy="229.84" r="1.08" fill="#6cc3ea"/>
<circle cx="389.89" cy="220.75" r="1.08" fill="#6cc3ea"/>
<circle cx="386.95" cy="229.79" r="1.08" fill="#6cc3ea"/>
<circle cx="386.90" cy="233.85" r="1.08" fill="#6cc3ea"/>
<circle cx="378.55" cy="240.99" r="1.08" fill="#6cc3ea"/>
<circle cx="386.92" cy="234.90" r="1.08" fill="#6cc3ea"/>
<circle cx="384.58" cy="239.34" r="1.08" fill="#6cc3ea"/>
<circle cx="362.21" cy="238.85" r="1.08" fill="#2266ad"/>
<circle cx="360.28" cy="242.60" r="1.08" fill="#2266ad"/>
<circle cx="363.81" cy="248.97" r="1.08" fill="#2266ad"/>
<circle cx="361.03" cy="239.69" r="1.08" fill="#2266ad"/>
<circle cx="364.68" cy="248.72" r="1.08" fill="#2266ad"/>
<circle cx="361.41" cy="245.29" r="1.08" fill="#2266ad"/>
<circle cx="362.89" cy="248.12" r="1.08" fill="#2266ad"/>
<circle cx="364.99" cy="252.44" r="1.08" fill="#2266ad"/>
<circle cx="367.99" cy="251.69" r="1.08" fill="#2266ad"/>
<circle cx="360.46" cy="248.80" r="1.08" fill="#2266ad"/>
<circle cx="366.84" cy="249.18" r="1.08" fill="#2266ad"/>
<circle cx="366.07" cy="253.63" r="1.08" fill="#2266ad"/>
<circle cx="363.71" cy="244.69" r="1.08" fill="#2266ad"/>
<circle cx="361.72" cy="246.29" r="1.08" fill="#2266ad"/>
<circle cx="358.69" cy="239.09" r="1.08" fill="#2266ad"/>
<circle cx="366.92" cy="251.70" r="1.08" fill="#2266ad"/>
<circle cx="364.88" cy="246.20" r="1.08" fill="#2266ad"/>
<circle cx="386.49" cy="240.27" r="1.08" fill="#2266ad"/>
<circle cx="381.77" cy="249.23" r="1.08" fill="#2266ad"/>
<circle cx="383.89" cy="237.83" r="1.08" fill="#2266ad"/>
<circle cx="387.48" cy="242.36" r="1.08" fill="#2266ad"/>
<circle cx="377.60" cy="253.56" r="1.08" fill="#2266ad"/>
<circle cx="385.68" cy="249.15" r="1.08" fill="#2266ad"/>
<circle cx="382.87" cy="242.59" r="1.08" fill="#2266ad"/>
<circle cx="384.75" cy="251.48" r="1.08" fill="#2266ad"/>
<circle cx="379.54" cy="248.68" r="1.08" fill="#2266ad"/>
<circle cx="391.68" cy="238.54" r="1.08" fill="#2266ad"/>
<circle cx="386.16" cy="243.95" r="1.08" fill="#2266ad"/>
<circle cx="385.32" cy="243.77" r="1.08" fill="#2266ad"/>
<circle cx="391.95" cy="242.52" r="1.08" fill="#2266ad"/>
<circle cx="388.67" cy="238.90" r="1.08" fill="#2266ad"/>
<circle cx="380.06" cy="247.58" r="1.08" fill="#2266ad"/>
<circle cx="391.58" cy="235.19" r="1.08" fill="#2266ad"/>
<circle cx="385.33" cy="242.06" r="1.08" fill="#2266ad"/>
<circle cx="382.04" cy="248.19" r="1.08" fill="#2266ad"/>
<circle cx="384.88" cy="247.07" r="1.08" fill="#2266ad"/>
<circle cx="379.75" cy="252.37" r="1.08" fill="#2266ad"/>
<circle cx="382.26" cy="236.93" r="1.08" fill="#2266ad"/>
<circle cx="389.08" cy="244.07" r="1.08" fill="#2266ad"/>
<circle cx="375.88" cy="253.04" r="1.08" fill="#2266ad"/>
<circle cx="386.56" cy="242.59" r="1.08" fill="#2266ad"/>
<circle cx="387.75" cy="238.09" r="1.08" fill="#2266ad"/>
<circle cx="384.07" cy="242.66" r="1.08" fill="#2266ad"/>
<circle cx="387.09" cy="245.46" r="1.08" fill="#2266ad"/>
<circle cx="381.12" cy="248.92" r="1.08" fill="#2266ad"/>
<circle cx="388.46" cy="235.16" r="1.08" fill="#2266ad"/>
<circle cx="382.23" cy="243.44" r="1.08" fill="#2266ad"/>
<circle cx="381.63" cy="251.02" r="1.08" fill="#2266ad"/>
<circle cx="390.97" cy="236.98" r="1.08" fill="#2266ad"/>
<circle cx="387.04" cy="238.13" r="1.08" fill="#2266ad"/>
<circle cx="382.87" cy="244.17" r="1.08" fill="#2266ad"/>
<circle cx="385.47" cy="237.42" r="1.08" fill="#2266ad"/>
<circle cx="385.36" cy="237.82" r="1.08" fill="#2266ad"/>
<circle cx="393.92" cy="221.04" r="1.08" fill="#2266ad"/>
<circle cx="375.57" cy="234.65" r="1.08" fill="#2266ad"/>
<circle cx="386.24" cy="233.34" r="1.08" fill="#2266ad"/>
<circle cx="373.38" cy="244.12" r="1.08" fill="#2266ad"/>
<circle cx="380.93" cy="223.42" r="1.08" fill="#2266ad"/>
<circle cx="394.42" cy="236.81" r="1.08" fill="#2266ad"/>
<circle cx="390.93" cy="236.13" r="1.08" fill="#2266ad"/>
<circle cx="392.03" cy="229.98" r="1.08" fill="#2266ad"/>
<circle cx="399.21" cy="228.30" r="1.08" fill="#2266ad"/>
<circle cx="390.76" cy="228.17" r="1.08" fill="#2266ad"/>
<circle cx="395.03" cy="241.73" r="1.08" fill="#2266ad"/>
<circle cx="395.75" cy="240.28" r="1.08" fill="#2266ad"/>
<circle cx="392.09" cy="238.87" r="1.08" fill="#2266ad"/>
<circle cx="356.80" cy="221.80" r="1.08" fill="#2266ad"/>
<circle cx="382.40" cy="219.10" r="1.08" fill="#2266ad"/>
<circle cx="397.90" cy="230.60" r="1.08" fill="#2266ad"/>
<circle cx="405.30" cy="234.60" r="1.08" fill="#2266ad"/>
<circle cx="398.50" cy="240.70" r="1.08" fill="#2266ad"/>
<circle cx="367.83" cy="252.26" r="1.08" fill="#7cc142"/>
<circle cx="370.02" cy="256.52" r="1.08" fill="#7cc142"/>
<circle cx="370.19" cy="255.32" r="1.08" fill="#7cc142"/>
<circle cx="373.23" cy="256.43" r="1.08" fill="#7cc142"/>
<circle cx="372.60" cy="257.98" r="1.08" fill="#7cc142"/>
<circle cx="368.18" cy="253.02" r="1.08" fill="#7cc142"/>
<circle cx="378.18" cy="250.95" r="1.08" fill="#7cc142"/>
<circle cx="375.42" cy="255.72" r="1.08" fill="#7cc142"/>
<circle cx="378.14" cy="251.39" r="1.08" fill="#7cc142"/>
<circle cx="370.06" cy="257.39" r="1.08" fill="#7cc142"/>
<circle cx="375.56" cy="256.23" r="1.08" fill="#7cc142"/>
<circle cx="370.27" cy="255.69" r="1.08" fill="#7cc142"/>
<circle cx="368.45" cy="254.35" r="1.08" fill="#7cc142"/>
<circle cx="374.25" cy="255.82" r="1.08" fill="#7cc142"/>
<circle cx="368.44" cy="254.58" r="1.08" fill="#2e8b2a"/>
<circle cx="370.21" cy="254.62" r="1.08" fill="#2e8b2a"/>
<circle cx="368.15" cy="253.60" r="1.08" fill="#2e8b2a"/>
<circle cx="377.03" cy="252.36" r="1.08" fill="#2e8b2a"/>
<circle cx="374.73" cy="255.87" r="1.08" fill="#2e8b2a"/>
<circle cx="373.62" cy="256.33" r="1.08" fill="#2e8b2a"/>
<circle cx="376.91" cy="253.39" r="1.08" fill="#2e8b2a"/>
<circle cx="369.63" cy="254.22" r="1.08" fill="#2e8b2a"/>
<circle cx="377.03" cy="254.63" r="1.08" fill="#2e8b2a"/>
<circle cx="376.24" cy="255.89" r="1.08" fill="#2e8b2a"/>
<circle cx="372.27" cy="256.11" r="1.08" fill="#2e8b2a"/>
<circle cx="371.87" cy="257.11" r="1.08" fill="#2e8b2a"/>
<circle cx="366.63" cy="249.87" r="1.08" fill="#2e8b2a"/>
<circle cx="369.68" cy="255.64" r="1.08" fill="#2e8b2a"/>
<circle cx="370.74" cy="256.64" r="1.08" fill="#2e8b2a"/>
<circle cx="369.75" cy="255.48" r="1.08" fill="#2e8b2a"/>
<circle cx="371.10" cy="256.48" r="1.08" fill="#2e8b2a"/>
<circle cx="369.34" cy="255.84" r="1.08" fill="#2e8b2a"/>
<circle cx="368.72" cy="254.47" r="1.08" fill="#2e8b2a"/>
<circle cx="370.38" cy="254.99" r="1.08" fill="#2e8b2a"/>
<circle cx="371.47" cy="256.01" r="1.08" fill="#2e8b2a"/>
<circle cx="372.19" cy="256.97" r="1.08" fill="#2e8b2a"/>
<circle cx="376.04" cy="256.29" r="1.08" fill="#2e8b2a"/>
<circle cx="374.51" cy="256.14" r="1.08" fill="#2e8b2a"/>
<circle cx="354.80" cy="215.80" r="1.08" fill="#2e8b2a"/>
<text x="421.00" y="30.30" font-size="5.9" text-anchor="start" fill="#333" font-weight="normal" >Pathway</text>
<circle cx="422.70" cy="36.70" r="1.2" fill="#2e8b2a"/>
<text x="426.10" y="38.70" font-size="5.9" text-anchor="start" fill="#333" font-weight="normal" >Transport activity</text>
<circle cx="422.70" cy="44.15" r="1.2" fill="#7cc142"/>
<text x="426.10" y="46.15" font-size="5.9" text-anchor="start" fill="#333" font-weight="normal" >Endoplasmic reticulum regulation</text>
<circle cx="422.70" cy="51.60" r="1.2" fill="#2266ad"/>
<text x="426.10" y="53.60" font-size="5.9" text-anchor="start" fill="#333" font-weight="normal" >T cell activation</text>
<circle cx="422.70" cy="59.05" r="1.2" fill="#6cc3ea"/>
<text x="426.10" y="61.05" font-size="5.9" text-anchor="start" fill="#333" font-weight="normal" >Immune response</text>
<circle cx="422.70" cy="66.50" r="1.2" fill="#cbcbcb"/>
<text x="426.10" y="68.50" font-size="5.9" text-anchor="start" fill="#333" font-weight="normal" >Other</text>
<text x="421.00" y="178.80" font-size="5.9" text-anchor="start" fill="#333" font-weight="normal" >Pathway</text>
<circle cx="422.70" cy="185.20" r="1.2" fill="#2e8b2a"/>
<text x="426.10" y="187.20" font-size="5.9" text-anchor="start" fill="#333" font-weight="normal" >Transport activity</text>
<circle cx="422.70" cy="192.65" r="1.2" fill="#7cc142"/>
<text x="426.10" y="194.65" font-size="5.9" text-anchor="start" fill="#333" font-weight="normal" >Endoplasmic reticulum regulation</text>
<circle cx="422.70" cy="200.10" r="1.2" fill="#2266ad"/>
<text x="426.10" y="202.10" font-size="5.9" text-anchor="start" fill="#333" font-weight="normal" >T cell activation</text>
<circle cx="422.70" cy="207.55" r="1.2" fill="#6cc3ea"/>
<text x="426.10" y="209.55" font-size="5.9" text-anchor="start" fill="#333" font-weight="normal" >Immune response</text>
<circle cx="422.70" cy="215.00" r="1.2" fill="#cbcbcb"/>
<text x="426.10" y="217.00" font-size="5.9" text-anchor="start" fill="#333" font-weight="normal" >Other</text>
<text x="22.00" y="322.10" font-size="7.7" text-anchor="start" fill="#231f20" font-weight="normal" stroke="#231f20" stroke-width="0.08">CD4+ T cells GIMAP1</text>
<line x1="35.20" y1="327.00" x2="35.20" y2="414.10" stroke="#1a1a1a" stroke-width="1.1" />
<line x1="34.70" y1="413.60" x2="84.60" y2="413.60" stroke="#1a1a1a" stroke-width="1.1" />
<line x1="32.40" y1="410.75" x2="35.20" y2="410.75" stroke="#1a1a1a" stroke-width="0.9" />
<text x="29.30" y="412.75" font-size="5.7" text-anchor="end" fill="#2a2a2a" font-weight="normal" stroke="#2a2a2a" stroke-width="0.12">0</text>
<line x1="32.40" y1="380.00" x2="35.20" y2="380.00" stroke="#1a1a1a" stroke-width="0.9" />
<text x="29.30" y="382.00" font-size="5.7" text-anchor="end" fill="#2a2a2a" font-weight="normal" stroke="#2a2a2a" stroke-width="0.12">50</text>
<line x1="32.40" y1="349.25" x2="35.20" y2="349.25" stroke="#1a1a1a" stroke-width="0.9" />
<text x="29.30" y="351.25" font-size="5.7" text-anchor="end" fill="#2a2a2a" font-weight="normal" stroke="#2a2a2a" stroke-width="0.12">100</text>
<path d="M48.80,330.20 L49.30,330.20 C49.33,332.67 49.43,339.92 49.50,345.00 C49.57,350.08 49.60,357.08 49.70,360.70 C49.80,364.32 49.80,364.47 50.10,366.70 C50.40,368.93 50.95,371.25 51.50,374.10 C52.05,376.95 53.20,380.82 53.40,383.80 C53.60,386.78 53.12,389.40 52.70,392.00 C52.28,394.60 51.38,397.55 50.90,399.40 C50.42,401.25 50.05,401.92 49.80,403.10 C49.55,404.28 49.47,405.93 49.40,406.50 L48.20,406.50 C48.13,405.93 48.05,404.28 47.80,403.10 C47.55,401.92 47.18,401.25 46.70,399.40 C46.22,397.55 45.32,394.60 44.90,392.00 C44.48,389.40 44.00,386.78 44.20,383.80 C44.40,380.82 45.55,376.95 46.10,374.10 C46.65,371.25 47.20,368.93 47.50,366.70 C47.80,364.47 47.80,364.32 47.90,360.70 C48.00,357.08 48.03,350.08 48.10,345.00 C48.17,339.92 48.27,332.67 48.30,330.20 Z" fill="#cdcdd0" stroke="#222" stroke-width="0.95" stroke-linejoin="round"/>
<path d="M71.30,368.20 L71.80,368.20 C71.82,369.83 71.85,375.48 71.90,378.00 C71.95,380.52 71.98,382.17 72.10,383.30 C72.22,384.43 72.43,384.15 72.60,384.80 C72.77,385.45 73.12,386.40 73.10,387.20 C73.08,388.00 72.65,388.73 72.50,389.60 C72.35,390.47 71.97,391.60 72.20,392.40 C72.43,393.20 73.15,393.68 73.90,394.40 C74.65,395.12 75.85,395.92 76.70,396.70 C77.55,397.48 78.22,398.30 79.00,399.10 C79.78,399.90 81.30,400.70 81.40,401.50 C81.50,402.30 80.42,403.10 79.60,403.90 C78.78,404.70 77.58,405.50 76.50,406.30 C75.42,407.10 73.83,408.18 73.10,408.70 C72.37,409.22 72.27,409.28 72.10,409.40 L70.50,409.40 C70.33,409.28 70.23,409.22 69.50,408.70 C68.77,408.18 67.18,407.10 66.10,406.30 C65.02,405.50 63.82,404.70 63.00,403.90 C62.18,403.10 61.10,402.30 61.20,401.50 C61.30,400.70 62.82,399.90 63.60,399.10 C64.38,398.30 65.05,397.48 65.90,396.70 C66.75,395.92 67.95,395.12 68.70,394.40 C69.45,393.68 70.17,393.20 70.40,392.40 C70.63,391.60 70.25,390.47 70.10,389.60 C69.95,388.73 69.52,388.00 69.50,387.20 C69.48,386.40 69.83,385.45 70.00,384.80 C70.17,384.15 70.38,384.43 70.50,383.30 C70.62,382.17 70.65,380.52 70.70,378.00 C70.75,375.48 70.78,369.83 70.80,368.20 Z" fill="#d50c2f" stroke="#1a1a1a" stroke-width="0.95" stroke-linejoin="round"/>
<line x1="48.80" y1="330.40" x2="48.80" y2="361.30" stroke="#3c3c3c" stroke-width="1.15" stroke-linecap="round"/>
<line x1="48.80" y1="403.64" x2="48.80" y2="406.50" stroke="#3c3c3c" stroke-width="1.15" stroke-linecap="round"/>
<line x1="71.30" y1="368.40" x2="71.30" y2="383.75" stroke="#3c3c3c" stroke-width="1.15" stroke-linecap="round"/>
<line x1="48.80" y1="413.60" x2="48.80" y2="416.00" stroke="#1a1a1a" stroke-width="0.9" />
<text x="0" y="0" font-size="5.8" text-anchor="end" fill="#2a2a2a" stroke="#231f20" stroke-width="0.08" transform="translate(51.80,422.90) rotate(-45)">Control</text>
<line x1="71.30" y1="413.60" x2="71.30" y2="416.00" stroke="#1a1a1a" stroke-width="0.9" />
<text x="0" y="0" font-size="5.8" text-anchor="end" fill="#2a2a2a" stroke="#231f20" stroke-width="0.08" transform="translate(74.30,422.90) rotate(-45)">DNMT3A</text>
<text x="0" y="0" font-size="7.0" font-weight="normal" text-anchor="middle" fill="#1a1a1a" stroke="#111" stroke-width="0.32" textLength="40.5" lengthAdjust="spacingAndGlyphs" transform="translate(12.95,370.50) rotate(-90)">Expression level</text>
<rect x="90.50" y="358.50" width="8.9" height="8.9" rx="0.6" fill="#cdcdd0" stroke="#2b2b2b" stroke-width="0.95"/>
<rect x="90.50" y="369.60" width="8.9" height="9.1" rx="0.6" fill="#d50c2f" stroke="#1e1e1e" stroke-width="0.95"/>
<text x="102.10" y="365.00" font-size="6.1" text-anchor="start" fill="#2a2a2a" font-weight="normal" stroke="#231f20" stroke-width="0.08">Control</text>
<text x="102.10" y="376.30" font-size="6.1" text-anchor="start" fill="#2a2a2a" font-weight="normal" stroke="#231f20" stroke-width="0.08">DNMT3A</text>
<text x="150.50" y="322.10" font-size="7.7" text-anchor="start" fill="#231f20" font-weight="normal" stroke="#231f20" stroke-width="0.08">CD4+ T cells GIMAP1</text>
<line x1="162.00" y1="327.00" x2="162.00" y2="414.70" stroke="#1a1a1a" stroke-width="1.1" />
<line x1="161.50" y1="414.20" x2="215.80" y2="414.20" stroke="#1a1a1a" stroke-width="1.1" />
<line x1="159.20" y1="412.60" x2="162.00" y2="412.60" stroke="#1a1a1a" stroke-width="0.9" />
<text x="156.10" y="414.60" font-size="5.7" text-anchor="end" fill="#2a2a2a" font-weight="normal" stroke="#2a2a2a" stroke-width="0.12">0</text>
<line x1="159.20" y1="381.05" x2="162.00" y2="381.05" stroke="#1a1a1a" stroke-width="0.9" />
<text x="156.10" y="383.05" font-size="5.7" text-anchor="end" fill="#2a2a2a" font-weight="normal" stroke="#2a2a2a" stroke-width="0.12">50</text>
<line x1="159.20" y1="349.50" x2="162.00" y2="349.50" stroke="#1a1a1a" stroke-width="0.9" />
<text x="156.10" y="351.50" font-size="5.7" text-anchor="end" fill="#2a2a2a" font-weight="normal" stroke="#2a2a2a" stroke-width="0.12">100</text>
<path d="M177.10,330.70 L177.60,330.70 C177.62,333.08 177.65,340.62 177.70,345.00 C177.75,349.38 177.77,354.10 177.90,357.00 C178.03,359.90 178.32,360.72 178.50,362.40 C178.68,364.08 178.70,365.23 179.00,367.10 C179.30,368.97 179.85,371.60 180.30,373.60 C180.75,375.60 181.23,377.10 181.70,379.10 C182.17,381.10 183.10,383.43 183.10,385.60 C183.10,387.77 182.20,390.08 181.70,392.10 C181.20,394.12 180.67,395.85 180.10,397.70 C179.53,399.55 178.72,401.35 178.30,403.20 C177.88,405.05 177.72,407.87 177.60,408.80 L176.60,408.80 C176.48,407.87 176.32,405.05 175.90,403.20 C175.48,401.35 174.67,399.55 174.10,397.70 C173.53,395.85 173.00,394.12 172.50,392.10 C172.00,390.08 171.10,387.77 171.10,385.60 C171.10,383.43 172.03,381.10 172.50,379.10 C172.97,377.10 173.45,375.60 173.90,373.60 C174.35,371.60 174.90,368.97 175.20,367.10 C175.50,365.23 175.52,364.08 175.70,362.40 C175.88,360.72 176.17,359.90 176.30,357.00 C176.43,354.10 176.45,349.38 176.50,345.00 C176.55,340.62 176.58,333.08 176.60,330.70 Z" fill="#cdcdd0" stroke="#222" stroke-width="0.95" stroke-linejoin="round"/>
<path d="M201.40,379.60 L201.90,379.60 C201.92,380.33 201.93,382.67 202.00,384.00 C202.07,385.33 202.08,386.78 202.30,387.60 C202.52,388.42 203.02,388.23 203.30,388.90 C203.58,389.57 203.68,390.72 204.00,391.60 C204.32,392.48 204.53,393.43 205.20,394.20 C205.87,394.97 207.08,395.43 208.00,396.20 C208.92,396.97 209.95,397.80 210.70,398.80 C211.45,399.80 212.40,401.20 212.50,402.20 C212.60,403.20 212.10,403.92 211.30,404.80 C210.50,405.68 208.92,406.67 207.70,407.50 C206.48,408.33 204.88,409.32 204.00,409.80 C203.12,410.28 202.67,410.30 202.40,410.40 L200.40,410.40 C200.13,410.30 199.68,410.28 198.80,409.80 C197.92,409.32 196.32,408.33 195.10,407.50 C193.88,406.67 192.30,405.68 191.50,404.80 C190.70,403.92 190.20,403.20 190.30,402.20 C190.40,401.20 191.35,399.80 192.10,398.80 C192.85,397.80 193.88,396.97 194.80,396.20 C195.72,395.43 196.93,394.97 197.60,394.20 C198.27,393.43 198.48,392.48 198.80,391.60 C199.12,390.72 199.22,389.57 199.50,388.90 C199.78,388.23 200.28,388.42 200.50,387.60 C200.72,386.78 200.73,385.33 200.80,384.00 C200.87,382.67 200.88,380.33 200.90,379.60 Z" fill="#2eaa2e" stroke="#1a1a1a" stroke-width="0.95" stroke-linejoin="round"/>
<line x1="177.10" y1="330.90" x2="177.10" y2="358.08" stroke="#3c3c3c" stroke-width="1.15" stroke-linecap="round"/>
<line x1="177.10" y1="405.08" x2="177.10" y2="408.80" stroke="#3c3c3c" stroke-width="1.15" stroke-linecap="round"/>
<line x1="201.40" y1="379.80" x2="201.40" y2="387.60" stroke="#3c3c3c" stroke-width="1.15" stroke-linecap="round"/>
<line x1="177.10" y1="414.20" x2="177.10" y2="416.60" stroke="#1a1a1a" stroke-width="0.9" />
<text x="0" y="0" font-size="5.8" text-anchor="end" fill="#2a2a2a" stroke="#231f20" stroke-width="0.08" transform="translate(180.10,423.50) rotate(-45)">Control</text>
<line x1="201.40" y1="414.20" x2="201.40" y2="416.60" stroke="#1a1a1a" stroke-width="0.9" />
<text x="0" y="0" font-size="5.8" text-anchor="end" fill="#2a2a2a" stroke="#231f20" stroke-width="0.08" transform="translate(204.40,423.50) rotate(-45)">TET2</text>
<text x="0" y="0" font-size="7.0" font-weight="normal" text-anchor="middle" fill="#1a1a1a" stroke="#111" stroke-width="0.32" textLength="40.5" lengthAdjust="spacingAndGlyphs" transform="translate(139.20,370.90) rotate(-90)">Expression level</text>
<rect x="219.25" y="358.00" width="8.9" height="8.9" rx="0.6" fill="#cdcdd0" stroke="#2b2b2b" stroke-width="0.95"/>
<rect x="219.25" y="369.10" width="8.9" height="9.1" rx="0.6" fill="#2eaa2e" stroke="#1e1e1e" stroke-width="0.95"/>
<text x="230.85" y="364.50" font-size="6.1" text-anchor="start" fill="#2a2a2a" font-weight="normal" stroke="#231f20" stroke-width="0.08">Control</text>
<text x="230.85" y="375.80" font-size="6.1" text-anchor="start" fill="#2a2a2a" font-weight="normal" stroke="#231f20" stroke-width="0.08">TET2</text>
<text x="272.80" y="322.10" font-size="7.7" text-anchor="start" fill="#231f20" font-weight="normal" stroke="#231f20" stroke-width="0.08">CD8+ T cells GIMAP1</text>
<line x1="285.00" y1="327.00" x2="285.00" y2="414.00" stroke="#1a1a1a" stroke-width="1.1" />
<line x1="284.50" y1="413.50" x2="336.50" y2="413.50" stroke="#1a1a1a" stroke-width="1.1" />
<line x1="282.20" y1="413.00" x2="285.00" y2="413.00" stroke="#1a1a1a" stroke-width="0.9" />
<text x="279.10" y="415.00" font-size="5.7" text-anchor="end" fill="#2a2a2a" font-weight="normal" stroke="#2a2a2a" stroke-width="0.12">0</text>
<line x1="282.20" y1="389.08" x2="285.00" y2="389.08" stroke="#1a1a1a" stroke-width="0.9" />
<text x="279.10" y="391.08" font-size="5.7" text-anchor="end" fill="#2a2a2a" font-weight="normal" stroke="#2a2a2a" stroke-width="0.12">20</text>
<line x1="282.20" y1="365.16" x2="285.00" y2="365.16" stroke="#1a1a1a" stroke-width="0.9" />
<text x="279.10" y="367.16" font-size="5.7" text-anchor="end" fill="#2a2a2a" font-weight="normal" stroke="#2a2a2a" stroke-width="0.12">40</text>
<line x1="282.20" y1="341.24" x2="285.00" y2="341.24" stroke="#1a1a1a" stroke-width="0.9" />
<text x="279.10" y="343.24" font-size="5.7" text-anchor="end" fill="#2a2a2a" font-weight="normal" stroke="#2a2a2a" stroke-width="0.12">60</text>
<path d="M299.30,330.70 L299.80,330.70 C299.82,333.08 299.85,340.98 299.90,345.00 C299.95,349.02 299.95,351.43 300.10,354.80 C300.25,358.17 300.52,361.73 300.80,365.20 C301.08,368.67 301.38,372.38 301.80,375.60 C302.22,378.82 302.68,381.52 303.30,384.50 C303.92,387.48 305.25,391.02 305.50,393.50 C305.75,395.98 305.33,397.67 304.80,399.40 C304.27,401.13 302.82,402.78 302.30,403.90 C301.78,405.02 301.80,405.73 301.70,406.10 L296.90,406.10 C296.80,405.73 296.82,405.02 296.30,403.90 C295.78,402.78 294.33,401.13 293.80,399.40 C293.27,397.67 292.85,395.98 293.10,393.50 C293.35,391.02 294.68,387.48 295.30,384.50 C295.92,381.52 296.38,378.82 296.80,375.60 C297.22,372.38 297.52,368.67 297.80,365.20 C298.08,361.73 298.35,358.17 298.50,354.80 C298.65,351.43 298.65,349.02 298.70,345.00 C298.75,340.98 298.78,333.08 298.80,330.70 Z" fill="#cdcdd0" stroke="#222" stroke-width="0.95" stroke-linejoin="round"/>
<path d="M322.90,386.20 L323.80,386.20 C323.93,386.70 324.13,388.18 324.60,389.20 C325.07,390.22 325.80,391.27 326.60,392.30 C327.40,393.33 328.48,394.37 329.40,395.40 C330.32,396.43 331.42,397.58 332.10,398.50 C332.78,399.42 333.37,400.08 333.50,400.90 C333.63,401.72 333.38,402.58 332.90,403.40 C332.42,404.22 331.50,404.98 330.60,405.80 C329.70,406.62 328.22,407.68 327.50,408.30 C326.78,408.92 326.50,409.30 326.30,409.50 L319.50,409.50 C319.30,409.30 319.02,408.92 318.30,408.30 C317.58,407.68 316.10,406.62 315.20,405.80 C314.30,404.98 313.38,404.22 312.90,403.40 C312.42,402.58 312.17,401.72 312.30,400.90 C312.43,400.08 313.02,399.42 313.70,398.50 C314.38,397.58 315.48,396.43 316.40,395.40 C317.32,394.37 318.40,393.33 319.20,392.30 C320.00,391.27 320.73,390.22 321.20,389.20 C321.67,388.18 321.87,386.70 322.00,386.20 Z" fill="#d50c2f" stroke="#1a1a1a" stroke-width="0.95" stroke-linejoin="round"/>
<line x1="299.30" y1="330.90" x2="299.30" y2="356.88" stroke="#3c3c3c" stroke-width="1.15" stroke-linecap="round"/>
<line x1="299.30" y1="413.50" x2="299.30" y2="415.90" stroke="#1a1a1a" stroke-width="0.9" />
<text x="0" y="0" font-size="5.8" text-anchor="end" fill="#2a2a2a" stroke="#231f20" stroke-width="0.08" transform="translate(302.30,422.80) rotate(-45)">Control</text>
<line x1="322.90" y1="413.50" x2="322.90" y2="415.90" stroke="#1a1a1a" stroke-width="0.9" />
<text x="0" y="0" font-size="5.8" text-anchor="end" fill="#2a2a2a" stroke="#231f20" stroke-width="0.08" transform="translate(325.90,422.80) rotate(-45)">DNMT3A</text>
<text x="0" y="0" font-size="7.0" font-weight="normal" text-anchor="middle" fill="#1a1a1a" stroke="#111" stroke-width="0.32" textLength="40.5" lengthAdjust="spacingAndGlyphs" transform="translate(265.45,370.70) rotate(-90)">Expression level</text>
<rect x="339.50" y="358.00" width="8.9" height="8.9" rx="0.6" fill="#cdcdd0" stroke="#2b2b2b" stroke-width="0.95"/>
<rect x="339.50" y="369.10" width="8.9" height="9.1" rx="0.6" fill="#d50c2f" stroke="#1e1e1e" stroke-width="0.95"/>
<text x="351.10" y="364.50" font-size="6.1" text-anchor="start" fill="#2a2a2a" font-weight="normal" stroke="#231f20" stroke-width="0.08">Control</text>
<text x="351.10" y="375.80" font-size="6.1" text-anchor="start" fill="#2a2a2a" font-weight="normal" stroke="#231f20" stroke-width="0.08">DNMT3A</text>
<text x="407.80" y="322.50" font-size="7.7" text-anchor="start" fill="#231f20" font-weight="normal" stroke="#231f20" stroke-width="0.08">CD8+ T cells GIMAP1</text>
<line x1="410.90" y1="327.40" x2="410.90" y2="415.10" stroke="#1a1a1a" stroke-width="1.1" />
<line x1="410.40" y1="414.60" x2="466.90" y2="414.60" stroke="#1a1a1a" stroke-width="1.1" />
<line x1="408.10" y1="391.20" x2="410.90" y2="391.20" stroke="#1a1a1a" stroke-width="0.9" />
<text x="405.00" y="393.20" font-size="5.7" text-anchor="end" fill="#2a2a2a" font-weight="normal" stroke="#2a2a2a" stroke-width="0.12">20</text>
<line x1="408.10" y1="366.60" x2="410.90" y2="366.60" stroke="#1a1a1a" stroke-width="0.9" />
<text x="405.00" y="368.60" font-size="5.7" text-anchor="end" fill="#2a2a2a" font-weight="normal" stroke="#2a2a2a" stroke-width="0.12">40</text>
<line x1="408.10" y1="342.00" x2="410.90" y2="342.00" stroke="#1a1a1a" stroke-width="0.9" />
<text x="405.00" y="344.00" font-size="5.7" text-anchor="end" fill="#2a2a2a" font-weight="normal" stroke="#2a2a2a" stroke-width="0.12">60</text>
<path d="M426.20,330.70 L426.70,330.70 C426.72,333.08 426.75,339.75 426.80,345.00 C426.85,350.25 426.85,358.10 427.00,362.20 C427.15,366.30 427.33,366.38 427.70,369.60 C428.07,372.82 428.68,378.02 429.20,381.50 C429.72,384.98 430.13,387.77 430.80,390.50 C431.47,393.23 432.97,395.92 433.20,397.90 C433.43,399.88 432.87,401.03 432.20,402.40 C431.53,403.77 429.87,405.23 429.20,406.10 C428.53,406.97 428.37,407.35 428.20,407.60 L424.20,407.60 C424.03,407.35 423.87,406.97 423.20,406.10 C422.53,405.23 420.87,403.77 420.20,402.40 C419.53,401.03 418.97,399.88 419.20,397.90 C419.43,395.92 420.93,393.23 421.60,390.50 C422.27,387.77 422.68,384.98 423.20,381.50 C423.72,378.02 424.33,372.82 424.70,369.60 C425.07,366.38 425.25,366.30 425.40,362.20 C425.55,358.10 425.55,350.25 425.60,345.00 C425.65,339.75 425.68,333.08 425.70,330.70 Z" fill="#cdcdd0" stroke="#222" stroke-width="0.95" stroke-linejoin="round"/>
<path d="M451.80,357.70 L452.30,357.70 C452.32,359.75 452.35,366.03 452.40,370.00 C452.45,373.97 452.50,379.23 452.60,381.50 C452.70,383.77 452.82,383.03 453.00,383.60 C453.18,384.17 453.47,384.13 453.65,384.90 C453.83,385.67 453.86,386.98 454.10,388.20 C454.34,389.42 454.55,391.08 455.10,392.20 C455.65,393.32 456.52,394.02 457.40,394.90 C458.28,395.78 459.57,396.62 460.40,397.50 C461.23,398.38 461.88,399.32 462.40,400.20 C462.92,401.08 463.45,402.03 463.50,402.80 C463.55,403.57 463.27,404.02 462.70,404.80 C462.13,405.58 461.03,406.73 460.10,407.50 C459.17,408.27 457.77,408.92 457.10,409.40 C456.43,409.88 456.27,410.23 456.10,410.40 L447.50,410.40 C447.33,410.23 447.17,409.88 446.50,409.40 C445.83,408.92 444.43,408.27 443.50,407.50 C442.57,406.73 441.47,405.58 440.90,404.80 C440.33,404.02 440.05,403.57 440.10,402.80 C440.15,402.03 440.68,401.08 441.20,400.20 C441.72,399.32 442.37,398.38 443.20,397.50 C444.03,396.62 445.32,395.78 446.20,394.90 C447.08,394.02 447.95,393.32 448.50,392.20 C449.05,391.08 449.26,389.42 449.50,388.20 C449.74,386.98 449.77,385.67 449.95,384.90 C450.13,384.13 450.43,384.17 450.60,383.60 C450.78,383.03 450.90,383.77 451.00,381.50 C451.10,379.23 451.15,373.97 451.20,370.00 C451.25,366.03 451.28,359.75 451.30,357.70 Z" fill="#2eaa2e" stroke="#1a1a1a" stroke-width="0.95" stroke-linejoin="round"/>
<line x1="426.20" y1="330.90" x2="426.20" y2="364.42" stroke="#3c3c3c" stroke-width="1.15" stroke-linecap="round"/>
<line x1="451.80" y1="357.90" x2="451.80" y2="382.34" stroke="#3c3c3c" stroke-width="1.15" stroke-linecap="round"/>
<line x1="426.20" y1="414.60" x2="426.20" y2="417.00" stroke="#1a1a1a" stroke-width="0.9" />
<text x="0" y="0" font-size="5.8" text-anchor="end" fill="#2a2a2a" stroke="#231f20" stroke-width="0.08" transform="translate(429.20,423.90) rotate(-45)">Control</text>
<line x1="451.80" y1="414.60" x2="451.80" y2="417.00" stroke="#1a1a1a" stroke-width="0.9" />
<text x="0" y="0" font-size="5.8" text-anchor="end" fill="#2a2a2a" stroke="#231f20" stroke-width="0.08" transform="translate(454.80,423.90) rotate(-45)">TET2</text>
<text x="0" y="0" font-size="7.0" font-weight="normal" text-anchor="middle" fill="#1a1a1a" stroke="#111" stroke-width="0.32" textLength="40.5" lengthAdjust="spacingAndGlyphs" transform="translate(391.70,370.00) rotate(-90)">Expression level</text>
<rect x="475.00" y="358.75" width="8.9" height="8.9" rx="0.6" fill="#cdcdd0" stroke="#2b2b2b" stroke-width="0.95"/>
<rect x="475.00" y="369.85" width="8.9" height="9.1" rx="0.6" fill="#2eaa2e" stroke="#1e1e1e" stroke-width="0.95"/>
<text x="486.60" y="365.25" font-size="6.1" text-anchor="start" fill="#2a2a2a" font-weight="normal" stroke="#231f20" stroke-width="0.08">Control</text>
<text x="486.60" y="376.55" font-size="6.1" text-anchor="start" fill="#2a2a2a" font-weight="normal" stroke="#231f20" stroke-width="0.08">TET2</text>
<text x="22.30" y="478.80" font-size="7.7" text-anchor="start" fill="#231f20" font-weight="normal" stroke="#231f20" stroke-width="0.08">CD4+ T cells GIMAP5</text>
<line x1="35.10" y1="483.75" x2="35.10" y2="570.90" stroke="#1a1a1a" stroke-width="1.1" />
<line x1="34.60" y1="570.40" x2="84.60" y2="570.40" stroke="#1a1a1a" stroke-width="1.1" />
<line x1="32.30" y1="568.40" x2="35.10" y2="568.40" stroke="#1a1a1a" stroke-width="0.9" />
<text x="29.20" y="570.40" font-size="5.7" text-anchor="end" fill="#2a2a2a" font-weight="normal" stroke="#2a2a2a" stroke-width="0.12">0</text>
<line x1="32.30" y1="545.01" x2="35.10" y2="545.01" stroke="#1a1a1a" stroke-width="0.9" />
<text x="29.20" y="547.01" font-size="5.7" text-anchor="end" fill="#2a2a2a" font-weight="normal" stroke="#2a2a2a" stroke-width="0.12">50</text>
<line x1="32.30" y1="521.63" x2="35.10" y2="521.63" stroke="#1a1a1a" stroke-width="0.9" />
<text x="29.20" y="523.63" font-size="5.7" text-anchor="end" fill="#2a2a2a" font-weight="normal" stroke="#2a2a2a" stroke-width="0.12">100</text>
<line x1="32.30" y1="498.25" x2="35.10" y2="498.25" stroke="#1a1a1a" stroke-width="0.9" />
<text x="29.20" y="500.25" font-size="5.7" text-anchor="end" fill="#2a2a2a" font-weight="normal" stroke="#2a2a2a" stroke-width="0.12">150</text>
<path d="M48.80,486.70 L49.30,486.70 C49.33,488.92 49.45,494.92 49.50,500.00 C49.55,505.08 49.45,513.58 49.60,517.20 C49.75,520.82 50.03,519.97 50.40,521.70 C50.77,523.43 51.13,524.63 51.80,527.60 C52.47,530.57 54.23,536.27 54.40,539.50 C54.57,542.73 53.23,544.77 52.80,547.00 C52.37,549.23 52.03,550.67 51.80,552.90 C51.57,555.13 51.48,558.53 51.40,560.40 C51.32,562.27 51.32,563.48 51.30,564.10 L46.30,564.10 C46.28,563.48 46.28,562.27 46.20,560.40 C46.12,558.53 46.03,555.13 45.80,552.90 C45.57,550.67 45.23,549.23 44.80,547.00 C44.37,544.77 43.03,542.73 43.20,539.50 C43.37,536.27 45.13,530.57 45.80,527.60 C46.47,524.63 46.83,523.43 47.20,521.70 C47.57,519.97 47.85,520.82 48.00,517.20 C48.15,513.58 48.05,505.08 48.10,500.00 C48.15,494.92 48.27,488.92 48.30,486.70 Z" fill="#cdcdd0" stroke="#222" stroke-width="0.95" stroke-linejoin="round"/>
<path d="M71.40,532.90 L71.90,532.90 C71.93,533.75 72.03,536.50 72.10,538.00 C72.17,539.50 72.10,540.90 72.30,541.90 C72.50,542.90 72.87,543.08 73.30,544.00 C73.73,544.92 74.35,546.25 74.90,547.40 C75.45,548.55 76.00,549.73 76.60,550.90 C77.20,552.07 77.87,553.23 78.50,554.40 C79.13,555.57 79.88,556.87 80.40,557.90 C80.92,558.93 81.65,559.68 81.60,560.60 C81.55,561.52 80.87,562.53 80.10,563.40 C79.33,564.27 77.52,565.40 77.00,565.80 L65.80,565.80 C65.28,565.40 63.47,564.27 62.70,563.40 C61.93,562.53 61.25,561.52 61.20,560.60 C61.15,559.68 61.88,558.93 62.40,557.90 C62.92,556.87 63.67,555.57 64.30,554.40 C64.93,553.23 65.60,552.07 66.20,550.90 C66.80,549.73 67.35,548.55 67.90,547.40 C68.45,546.25 69.07,544.92 69.50,544.00 C69.93,543.08 70.30,542.90 70.50,541.90 C70.70,540.90 70.63,539.50 70.70,538.00 C70.77,536.50 70.87,533.75 70.90,532.90 Z" fill="#d50c2f" stroke="#1a1a1a" stroke-width="0.95" stroke-linejoin="round"/>
<line x1="48.80" y1="486.90" x2="48.80" y2="518.10" stroke="#3c3c3c" stroke-width="1.15" stroke-linecap="round"/>
<line x1="71.40" y1="533.10" x2="71.40" y2="541.90" stroke="#3c3c3c" stroke-width="1.15" stroke-linecap="round"/>
<line x1="48.80" y1="570.40" x2="48.80" y2="572.80" stroke="#1a1a1a" stroke-width="0.9" />
<text x="0" y="0" font-size="5.8" text-anchor="end" fill="#2a2a2a" stroke="#231f20" stroke-width="0.08" transform="translate(51.80,579.70) rotate(-45)">Control</text>
<line x1="71.40" y1="570.40" x2="71.40" y2="572.80" stroke="#1a1a1a" stroke-width="0.9" />
<text x="0" y="0" font-size="5.8" text-anchor="end" fill="#2a2a2a" stroke="#231f20" stroke-width="0.08" transform="translate(74.40,579.70) rotate(-45)">DNMT3A</text>
<text x="0" y="0" font-size="7.0" font-weight="normal" text-anchor="middle" fill="#1a1a1a" stroke="#111" stroke-width="0.32" textLength="40.5" lengthAdjust="spacingAndGlyphs" transform="translate(12.95,527.50) rotate(-90)">Expression level</text>
<rect x="90.50" y="518.75" width="8.9" height="8.9" rx="0.6" fill="#cdcdd0" stroke="#2b2b2b" stroke-width="0.95"/>
<rect x="90.50" y="529.85" width="8.9" height="9.1" rx="0.6" fill="#d50c2f" stroke="#1e1e1e" stroke-width="0.95"/>
<text x="102.10" y="525.25" font-size="6.1" text-anchor="start" fill="#2a2a2a" font-weight="normal" stroke="#231f20" stroke-width="0.08">Control</text>
<text x="102.10" y="536.55" font-size="6.1" text-anchor="start" fill="#2a2a2a" font-weight="normal" stroke="#231f20" stroke-width="0.08">DNMT3A</text>
<text x="150.70" y="477.50" font-size="7.7" text-anchor="start" fill="#231f20" font-weight="normal" stroke="#231f20" stroke-width="0.08">CD4+ T cells GIMAP5</text>
<line x1="162.00" y1="482.00" x2="162.00" y2="567.50" stroke="#1a1a1a" stroke-width="1.1" />
<line x1="161.50" y1="567.00" x2="214.30" y2="567.00" stroke="#1a1a1a" stroke-width="1.1" />
<line x1="159.20" y1="563.90" x2="162.00" y2="563.90" stroke="#1a1a1a" stroke-width="0.9" />
<text x="156.10" y="565.90" font-size="5.7" text-anchor="end" fill="#2a2a2a" font-weight="normal" stroke="#2a2a2a" stroke-width="0.12">0</text>
<line x1="159.20" y1="541.35" x2="162.00" y2="541.35" stroke="#1a1a1a" stroke-width="0.9" />
<text x="156.10" y="543.35" font-size="5.7" text-anchor="end" fill="#2a2a2a" font-weight="normal" stroke="#2a2a2a" stroke-width="0.12">50</text>
<line x1="159.20" y1="518.80" x2="162.00" y2="518.80" stroke="#1a1a1a" stroke-width="0.9" />
<text x="156.10" y="520.80" font-size="5.7" text-anchor="end" fill="#2a2a2a" font-weight="normal" stroke="#2a2a2a" stroke-width="0.12">100</text>
<line x1="159.20" y1="496.25" x2="162.00" y2="496.25" stroke="#1a1a1a" stroke-width="0.9" />
<text x="156.10" y="498.25" font-size="5.7" text-anchor="end" fill="#2a2a2a" font-weight="normal" stroke="#2a2a2a" stroke-width="0.12">150</text>
<path d="M176.70,485.70 L177.20,485.70 C177.22,488.08 177.25,495.62 177.30,500.00 C177.35,504.38 177.40,509.53 177.50,512.00 C177.60,514.47 177.70,513.85 177.90,514.80 C178.10,515.75 178.17,516.08 178.70,517.70 C179.23,519.32 180.37,522.38 181.10,524.50 C181.83,526.62 182.45,528.27 183.10,530.40 C183.75,532.53 185.00,535.02 185.00,537.30 C185.00,539.58 183.78,542.15 183.10,544.10 C182.42,546.05 181.43,547.37 180.90,549.00 C180.37,550.63 180.12,552.43 179.90,553.90 C179.68,555.37 179.73,556.75 179.60,557.80 C179.47,558.85 179.18,559.80 179.10,560.20 L174.30,560.20 C174.22,559.80 173.93,558.85 173.80,557.80 C173.67,556.75 173.72,555.37 173.50,553.90 C173.28,552.43 173.03,550.63 172.50,549.00 C171.97,547.37 170.98,546.05 170.30,544.10 C169.62,542.15 168.40,539.58 168.40,537.30 C168.40,535.02 169.65,532.53 170.30,530.40 C170.95,528.27 171.57,526.62 172.30,524.50 C173.03,522.38 174.17,519.32 174.70,517.70 C175.23,516.08 175.30,515.75 175.50,514.80 C175.70,513.85 175.80,514.47 175.90,512.00 C176.00,509.53 176.05,504.38 176.10,500.00 C176.15,495.62 176.18,488.08 176.20,485.70 Z" fill="#cdcdd0" stroke="#222" stroke-width="0.95" stroke-linejoin="round"/>
<path d="M200.50,517.80 L201.00,517.80 C201.02,518.50 201.03,520.43 201.10,522.00 C201.17,523.57 201.17,525.88 201.40,527.20 C201.63,528.52 202.17,528.72 202.50,529.90 C202.83,531.08 203.03,532.82 203.40,534.30 C203.77,535.78 203.88,537.30 204.70,538.80 C205.52,540.30 207.18,541.67 208.30,543.30 C209.42,544.93 211.13,547.12 211.40,548.60 C211.67,550.08 210.48,550.87 209.90,552.20 C209.32,553.53 208.65,555.12 207.90,556.60 C207.15,558.08 206.03,559.98 205.40,561.10 C204.77,562.22 204.32,562.93 204.10,563.30 L196.90,563.30 C196.68,562.93 196.23,562.22 195.60,561.10 C194.97,559.98 193.85,558.08 193.10,556.60 C192.35,555.12 191.68,553.53 191.10,552.20 C190.52,550.87 189.33,550.08 189.60,548.60 C189.87,547.12 191.58,544.93 192.70,543.30 C193.82,541.67 195.48,540.30 196.30,538.80 C197.12,537.30 197.23,535.78 197.60,534.30 C197.97,532.82 198.17,531.08 198.50,529.90 C198.83,528.72 199.37,528.52 199.60,527.20 C199.83,525.88 199.83,523.57 199.90,522.00 C199.97,520.43 199.98,518.50 200.00,517.80 Z" fill="#2eaa2e" stroke="#1a1a1a" stroke-width="0.95" stroke-linejoin="round"/>
<line x1="176.70" y1="485.90" x2="176.70" y2="513.12" stroke="#3c3c3c" stroke-width="1.15" stroke-linecap="round"/>
<line x1="200.50" y1="518.00" x2="200.50" y2="527.20" stroke="#3c3c3c" stroke-width="1.15" stroke-linecap="round"/>
<line x1="176.70" y1="567.00" x2="176.70" y2="569.40" stroke="#1a1a1a" stroke-width="0.9" />
<text x="0" y="0" font-size="5.8" text-anchor="end" fill="#2a2a2a" stroke="#231f20" stroke-width="0.08" transform="translate(179.70,576.30) rotate(-45)">Control</text>
<line x1="200.50" y1="567.00" x2="200.50" y2="569.40" stroke="#1a1a1a" stroke-width="0.9" />
<text x="0" y="0" font-size="5.8" text-anchor="end" fill="#2a2a2a" stroke="#231f20" stroke-width="0.08" transform="translate(203.50,576.30) rotate(-45)">TET2</text>
<text x="0" y="0" font-size="7.0" font-weight="normal" text-anchor="middle" fill="#1a1a1a" stroke="#111" stroke-width="0.32" textLength="40.5" lengthAdjust="spacingAndGlyphs" transform="translate(139.20,525.00) rotate(-90)">Expression level</text>
<rect x="219.25" y="518.25" width="8.9" height="8.9" rx="0.6" fill="#cdcdd0" stroke="#2b2b2b" stroke-width="0.95"/>
<rect x="219.25" y="529.35" width="8.9" height="9.1" rx="0.6" fill="#2eaa2e" stroke="#1e1e1e" stroke-width="0.95"/>
<text x="230.85" y="524.75" font-size="6.1" text-anchor="start" fill="#2a2a2a" font-weight="normal" stroke="#231f20" stroke-width="0.08">Control</text>
<text x="230.85" y="536.05" font-size="6.1" text-anchor="start" fill="#2a2a2a" font-weight="normal" stroke="#231f20" stroke-width="0.08">TET2</text>
<text x="271.60" y="477.10" font-size="7.7" text-anchor="start" fill="#231f20" font-weight="normal" stroke="#231f20" stroke-width="0.08">CD8+ T cells GIMAP5</text>
<line x1="285.20" y1="482.50" x2="285.20" y2="567.50" stroke="#1a1a1a" stroke-width="1.1" />
<line x1="284.70" y1="567.00" x2="334.20" y2="567.00" stroke="#1a1a1a" stroke-width="1.1" />
<line x1="282.40" y1="564.40" x2="285.20" y2="564.40" stroke="#1a1a1a" stroke-width="0.9" />
<text x="279.30" y="566.40" font-size="5.7" text-anchor="end" fill="#2a2a2a" font-weight="normal" stroke="#2a2a2a" stroke-width="0.12">0</text>
<line x1="282.40" y1="544.36" x2="285.20" y2="544.36" stroke="#1a1a1a" stroke-width="0.9" />
<text x="279.30" y="546.36" font-size="5.7" text-anchor="end" fill="#2a2a2a" font-weight="normal" stroke="#2a2a2a" stroke-width="0.12">25</text>
<line x1="282.40" y1="524.32" x2="285.20" y2="524.32" stroke="#1a1a1a" stroke-width="0.9" />
<text x="279.30" y="526.32" font-size="5.7" text-anchor="end" fill="#2a2a2a" font-weight="normal" stroke="#2a2a2a" stroke-width="0.12">50</text>
<line x1="282.40" y1="504.29" x2="285.20" y2="504.29" stroke="#1a1a1a" stroke-width="0.9" />
<text x="279.30" y="506.29" font-size="5.7" text-anchor="end" fill="#2a2a2a" font-weight="normal" stroke="#2a2a2a" stroke-width="0.12">75</text>
<line x1="282.40" y1="484.25" x2="285.20" y2="484.25" stroke="#1a1a1a" stroke-width="0.9" />
<text x="279.30" y="486.25" font-size="5.7" text-anchor="end" fill="#2a2a2a" font-weight="normal" stroke="#2a2a2a" stroke-width="0.12">100</text>
<path d="M298.50,485.70 L299.40,485.70 C299.42,486.42 299.52,488.45 299.50,490.00 C299.48,491.55 299.33,491.70 299.30,495.00 C299.27,498.30 299.18,505.85 299.30,509.80 C299.42,513.75 299.63,515.73 300.00,518.70 C300.37,521.67 300.72,524.38 301.50,527.60 C302.28,530.82 304.45,535.02 304.70,538.00 C304.95,540.98 303.45,543.02 303.00,545.50 C302.55,547.98 302.32,550.92 302.00,552.90 C301.68,554.88 301.25,556.65 301.10,557.40 L295.90,557.40 C295.75,556.65 295.32,554.88 295.00,552.90 C294.68,550.92 294.45,547.98 294.00,545.50 C293.55,543.02 292.05,540.98 292.30,538.00 C292.55,535.02 294.72,530.82 295.50,527.60 C296.28,524.38 296.63,521.67 297.00,518.70 C297.37,515.73 297.58,513.75 297.70,509.80 C297.82,505.85 297.73,498.30 297.70,495.00 C297.67,491.70 297.52,491.55 297.50,490.00 C297.48,488.45 297.58,486.42 297.60,485.70 Z" fill="#cdcdd0" stroke="#222" stroke-width="0.95" stroke-linejoin="round"/>
<path d="M320.10,530.30 L320.90,530.30 C320.90,530.92 320.87,532.73 320.90,534.00 C320.93,535.27 320.96,536.80 321.10,537.90 C321.24,539.00 321.42,539.50 321.75,540.60 C322.08,541.70 322.61,543.18 323.10,544.50 C323.59,545.82 324.15,547.17 324.70,548.50 C325.25,549.83 325.78,551.17 326.40,552.50 C327.02,553.83 327.80,555.28 328.40,556.50 C329.00,557.72 329.95,558.92 330.00,559.80 C330.05,560.68 329.25,561.25 328.70,561.80 C328.15,562.35 327.03,562.88 326.70,563.10 L313.50,563.10 C313.17,562.88 312.05,562.35 311.50,561.80 C310.95,561.25 310.15,560.68 310.20,559.80 C310.25,558.92 311.20,557.72 311.80,556.50 C312.40,555.28 313.18,553.83 313.80,552.50 C314.42,551.17 314.95,549.83 315.50,548.50 C316.05,547.17 316.61,545.82 317.10,544.50 C317.59,543.18 318.12,541.70 318.45,540.60 C318.78,539.50 318.96,539.00 319.10,537.90 C319.24,536.80 319.27,535.27 319.30,534.00 C319.33,532.73 319.30,530.92 319.30,530.30 Z" fill="#d50c2f" stroke="#1a1a1a" stroke-width="0.95" stroke-linejoin="round"/>
<line x1="298.50" y1="492.20" x2="298.50" y2="512.47" stroke="#3c3c3c" stroke-width="1.15" stroke-linecap="round"/>
<line x1="320.10" y1="530.50" x2="320.10" y2="537.12" stroke="#3c3c3c" stroke-width="1.15" stroke-linecap="round"/>
<line x1="298.50" y1="567.00" x2="298.50" y2="569.40" stroke="#1a1a1a" stroke-width="0.9" />
<text x="0" y="0" font-size="5.8" text-anchor="end" fill="#2a2a2a" stroke="#231f20" stroke-width="0.08" transform="translate(301.50,576.30) rotate(-45)">Control</text>
<line x1="320.10" y1="567.00" x2="320.10" y2="569.40" stroke="#1a1a1a" stroke-width="0.9" />
<text x="0" y="0" font-size="5.8" text-anchor="end" fill="#2a2a2a" stroke="#231f20" stroke-width="0.08" transform="translate(323.10,576.30) rotate(-45)">DNMT3A</text>
<text x="0" y="0" font-size="7.0" font-weight="normal" text-anchor="middle" fill="#1a1a1a" stroke="#111" stroke-width="0.32" textLength="40.5" lengthAdjust="spacingAndGlyphs" transform="translate(262.70,524.80) rotate(-90)">Expression level</text>
<rect x="335.00" y="518.75" width="8.9" height="8.9" rx="0.6" fill="#cdcdd0" stroke="#2b2b2b" stroke-width="0.95"/>
<rect x="335.00" y="529.85" width="8.9" height="9.1" rx="0.6" fill="#d50c2f" stroke="#1e1e1e" stroke-width="0.95"/>
<text x="346.60" y="525.25" font-size="6.1" text-anchor="start" fill="#2a2a2a" font-weight="normal" stroke="#231f20" stroke-width="0.08">Control</text>
<text x="346.60" y="536.55" font-size="6.1" text-anchor="start" fill="#2a2a2a" font-weight="normal" stroke="#231f20" stroke-width="0.08">DNMT3A</text>
<text x="399.80" y="476.80" font-size="7.7" text-anchor="start" fill="#231f20" font-weight="normal" stroke="#231f20" stroke-width="0.08">CD8+ T cells GIMAP5</text>
<line x1="411.20" y1="482.00" x2="411.20" y2="569.30" stroke="#1a1a1a" stroke-width="1.1" />
<line x1="410.70" y1="568.80" x2="464.30" y2="568.80" stroke="#1a1a1a" stroke-width="1.1" />
<line x1="408.40" y1="566.40" x2="411.20" y2="566.40" stroke="#1a1a1a" stroke-width="0.9" />
<text x="405.30" y="568.40" font-size="5.7" text-anchor="end" fill="#2a2a2a" font-weight="normal" stroke="#2a2a2a" stroke-width="0.12">0</text>
<line x1="408.40" y1="545.80" x2="411.20" y2="545.80" stroke="#1a1a1a" stroke-width="0.9" />
<text x="405.30" y="547.80" font-size="5.7" text-anchor="end" fill="#2a2a2a" font-weight="normal" stroke="#2a2a2a" stroke-width="0.12">25</text>
<line x1="408.40" y1="525.20" x2="411.20" y2="525.20" stroke="#1a1a1a" stroke-width="0.9" />
<text x="405.30" y="527.20" font-size="5.7" text-anchor="end" fill="#2a2a2a" font-weight="normal" stroke="#2a2a2a" stroke-width="0.12">50</text>
<line x1="408.40" y1="504.60" x2="411.20" y2="504.60" stroke="#1a1a1a" stroke-width="0.9" />
<text x="405.30" y="506.60" font-size="5.7" text-anchor="end" fill="#2a2a2a" font-weight="normal" stroke="#2a2a2a" stroke-width="0.12">75</text>
<line x1="408.40" y1="484.00" x2="411.20" y2="484.00" stroke="#1a1a1a" stroke-width="0.9" />
<text x="405.30" y="486.00" font-size="5.7" text-anchor="end" fill="#2a2a2a" font-weight="normal" stroke="#2a2a2a" stroke-width="0.12">100</text>
<path d="M425.50,485.20 L427.00,485.20 C427.02,485.58 427.13,486.20 427.10,487.50 C427.07,488.80 426.93,491.25 426.80,493.00 C426.67,494.75 426.45,496.20 426.30,498.00 C426.15,499.80 425.95,501.97 425.90,503.80 C425.85,505.63 425.93,507.97 426.00,509.00 C426.07,510.03 426.07,508.95 426.30,510.00 C426.53,511.05 427.08,513.53 427.35,515.30 C427.62,517.07 427.64,518.83 427.90,520.60 C428.16,522.37 428.20,524.13 428.90,525.90 C429.60,527.67 431.03,529.43 432.10,531.20 C433.17,532.97 434.55,534.83 435.30,536.50 C436.05,538.17 436.82,539.62 436.60,541.20 C436.38,542.78 434.62,544.32 434.00,546.00 C433.38,547.68 433.35,549.72 432.90,551.30 C432.45,552.88 431.83,554.23 431.30,555.50 C430.77,556.77 429.97,558.33 429.70,558.90 L421.30,558.90 C421.03,558.33 420.23,556.77 419.70,555.50 C419.17,554.23 418.55,552.88 418.10,551.30 C417.65,549.72 417.62,547.68 417.00,546.00 C416.38,544.32 414.62,542.78 414.40,541.20 C414.18,539.62 414.95,538.17 415.70,536.50 C416.45,534.83 417.83,532.97 418.90,531.20 C419.97,529.43 421.40,527.67 422.10,525.90 C422.80,524.13 422.84,522.37 423.10,520.60 C423.36,518.83 423.38,517.07 423.65,515.30 C423.92,513.53 424.47,511.05 424.70,510.00 C424.93,508.95 424.93,510.03 425.00,509.00 C425.07,507.97 425.15,505.63 425.10,503.80 C425.05,501.97 424.85,499.80 424.70,498.00 C424.55,496.20 424.33,494.75 424.20,493.00 C424.07,491.25 423.93,488.80 423.90,487.50 C423.87,486.20 423.98,485.58 424.00,485.20 Z" fill="#cdcdd0" stroke="#222" stroke-width="0.95" stroke-linejoin="round"/>
<path d="M449.90,500.10 L450.80,500.10 C450.78,501.75 450.70,506.58 450.70,510.00 C450.70,513.42 450.62,518.48 450.80,520.60 C450.97,522.72 451.15,521.47 451.75,522.70 C452.35,523.93 453.52,526.23 454.40,528.00 C455.27,529.77 456.30,531.53 457.00,533.30 C457.70,535.07 458.37,537.20 458.60,538.60 C458.83,540.00 458.57,540.30 458.40,541.70 C458.23,543.10 457.92,545.23 457.60,547.00 C457.28,548.77 456.85,550.53 456.50,552.30 C456.15,554.07 455.85,556.00 455.50,557.60 C455.15,559.20 454.77,560.67 454.40,561.90 C454.03,563.13 453.48,564.48 453.30,565.00 L446.50,565.00 C446.32,564.48 445.77,563.13 445.40,561.90 C445.03,560.67 444.65,559.20 444.30,557.60 C443.95,556.00 443.65,554.07 443.30,552.30 C442.95,550.53 442.52,548.77 442.20,547.00 C441.88,545.23 441.57,543.10 441.40,541.70 C441.23,540.30 440.97,540.00 441.20,538.60 C441.43,537.20 442.10,535.07 442.80,533.30 C443.50,531.53 444.52,529.77 445.40,528.00 C446.27,526.23 447.45,523.93 448.05,522.70 C448.65,521.47 448.82,522.72 449.00,520.60 C449.18,518.48 449.10,513.42 449.10,510.00 C449.10,506.58 449.02,501.75 449.00,500.10 Z" fill="#2eaa2e" stroke="#1a1a1a" stroke-width="0.95" stroke-linejoin="round"/>
<line x1="425.50" y1="496.70" x2="425.50" y2="510.53" stroke="#3c3c3c" stroke-width="1.15" stroke-linecap="round"/>
<line x1="449.90" y1="500.30" x2="449.90" y2="520.60" stroke="#3c3c3c" stroke-width="1.15" stroke-linecap="round"/>
<line x1="425.50" y1="568.80" x2="425.50" y2="571.20" stroke="#1a1a1a" stroke-width="0.9" />
<text x="0" y="0" font-size="5.8" text-anchor="end" fill="#2a2a2a" stroke="#231f20" stroke-width="0.08" transform="translate(428.50,578.10) rotate(-45)">Control</text>
<line x1="449.90" y1="568.80" x2="449.90" y2="571.20" stroke="#1a1a1a" stroke-width="0.9" />
<text x="0" y="0" font-size="5.8" text-anchor="end" fill="#2a2a2a" stroke="#231f20" stroke-width="0.08" transform="translate(452.90,578.10) rotate(-45)">TET2</text>
<text x="0" y="0" font-size="7.0" font-weight="normal" text-anchor="middle" fill="#1a1a1a" stroke="#111" stroke-width="0.32" textLength="40.5" lengthAdjust="spacingAndGlyphs" transform="translate(388.40,525.00) rotate(-90)">Expression level</text>
<rect x="473.25" y="518.75" width="8.9" height="8.9" rx="0.6" fill="#cdcdd0" stroke="#2b2b2b" stroke-width="0.95"/>
<rect x="473.25" y="529.85" width="8.9" height="9.1" rx="0.6" fill="#2eaa2e" stroke="#1e1e1e" stroke-width="0.95"/>
<text x="484.85" y="525.25" font-size="6.1" text-anchor="start" fill="#2a2a2a" font-weight="normal" stroke="#231f20" stroke-width="0.08">Control</text>
<text x="484.85" y="536.55" font-size="6.1" text-anchor="start" fill="#2a2a2a" font-weight="normal" stroke="#231f20" stroke-width="0.08">TET2</text>
<rect x="0.5" y="0.5" width="519" height="603" fill="none" stroke="#626262" stroke-width="1"/>
</svg>
</body></html>
